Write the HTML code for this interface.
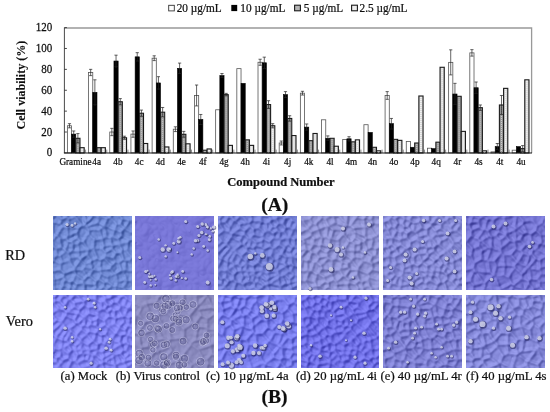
<!DOCTYPE html>
<html><head><meta charset="utf-8"><style>
html,body{margin:0;padding:0;background:#fff;}
body{width:550px;height:412px;overflow:hidden;position:relative;font-family:"Liberation Serif",serif;}
svg{position:absolute;left:0;top:0;will-change:transform;}
.bw{fill:#fff;stroke:#555;stroke-width:0.8;}
.bb{fill:#000;stroke:#000;stroke-width:0.6;}
.bg{fill:#959595;stroke:#1a1a1a;stroke-width:1.05;}
.bd{fill:#d8d8d8;stroke:#1a1a1a;stroke-width:1.1;}
.dd{stroke:#fff;stroke-width:1.2;stroke-dasharray:1 1;}
.gd{stroke:#d0d0d0;stroke-width:1.0;stroke-dasharray:1 1;}
.eb{stroke:#222;stroke-width:0.7;fill:none;}
.ax{stroke:#333;stroke-width:0.9;}
.xt{stroke:#808080;stroke-width:0.9;}
.tl{font-family:"Liberation Serif",serif;font-size:11px;fill:#111;}
.xl{font-family:"Liberation Serif",serif;font-size:9.2px;fill:#111;}
.lg{font-family:"Liberation Serif",serif;font-size:11.3px;fill:#111;}
.cap{font-family:"Liberation Serif",serif;font-size:12.7px;fill:#111;}
.b{font-weight:bold;}
text{stroke:#111;stroke-width:0.22px;fill:#111;}
</style></head><body>
<svg width="550" height="412" viewBox="0 0 550 412">
<defs>

</defs>
<filter id="cb" filterUnits="userSpaceOnUse" x="0" y="0" width="550" height="412"><feGaussianBlur stdDeviation="0.3"/></filter>
<g filter="url(#cb)">
<!-- frame -->
<path d="M64.40 28.0H531.6V152.90" fill="none" stroke="#999" stroke-width="1.3"/>
<line class="ax" x1="64.40" y1="27.6" x2="64.40" y2="152.90"/>
<line class="ax" x1="64.40" y1="152.90" x2="66.90" y2="152.90"/>
<text class="tl" transform="translate(52.3 156.40) scale(1 1.15)" text-anchor="end">0</text>
<line class="ax" x1="64.40" y1="132.02" x2="66.90" y2="132.02"/>
<text class="tl" transform="translate(52.3 135.52) scale(1 1.15)" text-anchor="end">20</text>
<line class="ax" x1="64.40" y1="111.13" x2="66.90" y2="111.13"/>
<text class="tl" transform="translate(52.3 114.63) scale(1 1.15)" text-anchor="end">40</text>
<line class="ax" x1="64.40" y1="90.25" x2="66.90" y2="90.25"/>
<text class="tl" transform="translate(52.3 93.75) scale(1 1.15)" text-anchor="end">60</text>
<line class="ax" x1="64.40" y1="69.37" x2="66.90" y2="69.37"/>
<text class="tl" transform="translate(52.3 72.87) scale(1 1.15)" text-anchor="end">80</text>
<line class="ax" x1="64.40" y1="48.48" x2="66.90" y2="48.48"/>
<text class="tl" transform="translate(52.3 51.98) scale(1 1.15)" text-anchor="end">100</text>
<line class="ax" x1="64.40" y1="27.60" x2="66.90" y2="27.60"/>
<text class="tl" transform="translate(52.3 31.10) scale(1 1.15)" text-anchor="end">120</text>
<line class="xt" x1="85.58" y1="152.90" x2="85.58" y2="149.60"/>
<line class="xt" x1="106.76" y1="152.90" x2="106.76" y2="149.60"/>
<line class="xt" x1="127.94" y1="152.90" x2="127.94" y2="149.60"/>
<line class="xt" x1="149.12" y1="152.90" x2="149.12" y2="149.60"/>
<line class="xt" x1="170.30" y1="152.90" x2="170.30" y2="149.60"/>
<line class="xt" x1="191.48" y1="152.90" x2="191.48" y2="149.60"/>
<line class="xt" x1="212.66" y1="152.90" x2="212.66" y2="149.60"/>
<line class="xt" x1="233.84" y1="152.90" x2="233.84" y2="149.60"/>
<line class="xt" x1="255.02" y1="152.90" x2="255.02" y2="149.60"/>
<line class="xt" x1="276.20" y1="152.90" x2="276.20" y2="149.60"/>
<line class="xt" x1="297.38" y1="152.90" x2="297.38" y2="149.60"/>
<line class="xt" x1="318.56" y1="152.90" x2="318.56" y2="149.60"/>
<line class="xt" x1="339.74" y1="152.90" x2="339.74" y2="149.60"/>
<line class="xt" x1="360.92" y1="152.90" x2="360.92" y2="149.60"/>
<line class="xt" x1="382.10" y1="152.90" x2="382.10" y2="149.60"/>
<line class="xt" x1="403.28" y1="152.90" x2="403.28" y2="149.60"/>
<line class="xt" x1="424.46" y1="152.90" x2="424.46" y2="149.60"/>
<line class="xt" x1="445.64" y1="152.90" x2="445.64" y2="149.60"/>
<line class="xt" x1="466.82" y1="152.90" x2="466.82" y2="149.60"/>
<line class="xt" x1="488.00" y1="152.90" x2="488.00" y2="149.60"/>
<line class="xt" x1="509.18" y1="152.90" x2="509.18" y2="149.60"/>
<rect class="bw" x="67.39" y="125.75" width="4.20" height="27.15"/>
<path class="eb" d="M69.49 127.84V123.66M67.89 123.66H71.09M67.89 127.84H71.09"/>
<rect class="bb" x="71.59" y="134.11" width="4.20" height="18.79"/>
<path class="eb" d="M73.69 137.24V130.97M72.09 130.97H75.29M72.09 137.24H75.29"/>
<rect class="bg" x="75.79" y="138.28" width="4.20" height="14.62"/>
<line class="gd" x1="77.89" y1="139.28" x2="77.89" y2="152.90"/>
<path class="eb" d="M77.89 142.98V133.58M76.29 133.58H79.49M76.29 142.98H79.49"/>
<rect class="bd" x="79.99" y="147.68" width="4.20" height="5.22"/>
<line class="dd" x1="82.09" y1="148.68" x2="82.09" y2="152.90"/>
<rect class="bw" x="88.57" y="72.50" width="4.20" height="80.40"/>
<path class="eb" d="M90.67 75.63V69.37M89.07 69.37H92.27M89.07 75.63H92.27"/>
<rect class="bb" x="92.77" y="92.34" width="4.20" height="60.56"/>
<path class="eb" d="M94.87 104.87V79.81M93.27 79.81H96.47M93.27 104.87H96.47"/>
<rect class="bg" x="96.97" y="147.68" width="4.20" height="5.22"/>
<line class="gd" x1="99.07" y1="148.68" x2="99.07" y2="152.90"/>
<rect class="bd" x="101.17" y="147.68" width="4.20" height="5.22"/>
<line class="dd" x1="103.27" y1="148.68" x2="103.27" y2="152.90"/>
<rect class="bw" x="109.75" y="132.02" width="4.20" height="20.88"/>
<path class="eb" d="M111.85 135.67V128.36M110.25 128.36H113.45M110.25 135.67H113.45"/>
<rect class="bb" x="113.95" y="61.01" width="4.20" height="91.89"/>
<path class="eb" d="M116.05 66.86V55.17M114.45 55.17H117.65M114.45 66.86H117.65"/>
<rect class="bg" x="118.15" y="101.74" width="4.20" height="51.16"/>
<line class="gd" x1="120.25" y1="102.74" x2="120.25" y2="152.90"/>
<path class="eb" d="M120.25 104.87V98.60M118.65 98.60H121.85M118.65 104.87H121.85"/>
<rect class="bd" x="122.35" y="137.76" width="4.20" height="15.14"/>
<line class="dd" x1="124.45" y1="138.76" x2="124.45" y2="152.90"/>
<path class="eb" d="M124.45 139.33V136.19M122.85 136.19H126.05M122.85 139.33H126.05"/>
<rect class="bw" x="130.93" y="134.11" width="4.20" height="18.79"/>
<path class="eb" d="M133.03 137.24V130.97M131.43 130.97H134.63M131.43 137.24H134.63"/>
<rect class="bb" x="135.13" y="56.84" width="4.20" height="96.06"/>
<path class="eb" d="M137.23 61.01V52.66M135.63 52.66H138.83M135.63 61.01H138.83"/>
<rect class="bg" x="139.33" y="113.22" width="4.20" height="39.68"/>
<line class="gd" x1="141.43" y1="114.22" x2="141.43" y2="152.90"/>
<path class="eb" d="M141.43 116.35V110.09M139.83 110.09H143.03M139.83 116.35H143.03"/>
<rect class="bd" x="143.53" y="143.50" width="4.20" height="9.40"/>
<line class="dd" x1="145.63" y1="144.50" x2="145.63" y2="152.90"/>
<rect class="bw" x="152.11" y="58.19" width="4.20" height="94.71"/>
<path class="eb" d="M154.21 60.60V55.79M152.61 55.79H155.81M152.61 60.60H155.81"/>
<rect class="bb" x="156.31" y="82.94" width="4.20" height="69.96"/>
<path class="eb" d="M158.41 89.21V76.68M156.81 76.68H160.01M156.81 89.21H160.01"/>
<rect class="bg" x="160.51" y="112.18" width="4.20" height="40.72"/>
<line class="gd" x1="162.61" y1="113.18" x2="162.61" y2="152.90"/>
<path class="eb" d="M162.61 116.88V107.48M161.01 107.48H164.21M161.01 116.88H164.21"/>
<rect class="bd" x="164.71" y="146.95" width="4.20" height="5.95"/>
<line class="dd" x1="166.81" y1="147.95" x2="166.81" y2="152.90"/>
<rect class="bw" x="173.29" y="129.20" width="4.20" height="23.70"/>
<path class="eb" d="M175.39 131.60V126.80M173.79 126.80H176.99M173.79 131.60H176.99"/>
<rect class="bb" x="177.49" y="68.32" width="4.20" height="84.58"/>
<path class="eb" d="M179.59 73.54V63.10M177.99 63.10H181.19M177.99 73.54H181.19"/>
<rect class="bg" x="181.69" y="134.31" width="4.20" height="18.59"/>
<line class="gd" x1="183.79" y1="135.31" x2="183.79" y2="152.90"/>
<path class="eb" d="M183.79 137.24V131.39M182.19 131.39H185.39M182.19 137.24H185.39"/>
<rect class="bd" x="185.89" y="143.82" width="4.20" height="9.08"/>
<line class="dd" x1="187.99" y1="144.82" x2="187.99" y2="152.90"/>
<rect class="bw" x="194.47" y="95.47" width="4.20" height="57.43"/>
<path class="eb" d="M196.57 105.91V85.03M194.97 85.03H198.17M194.97 105.91H198.17"/>
<rect class="bb" x="198.67" y="119.49" width="4.20" height="33.41"/>
<path class="eb" d="M200.77 124.50V114.47M199.17 114.47H202.37M199.17 124.50H202.37"/>
<rect class="bg" x="202.87" y="150.19" width="4.20" height="2.71"/>
<line class="gd" x1="204.97" y1="151.19" x2="204.97" y2="152.90"/>
<rect class="bd" x="207.07" y="148.93" width="4.20" height="3.97"/>
<line class="dd" x1="209.17" y1="149.93" x2="209.17" y2="152.90"/>
<rect class="bw" x="215.65" y="109.78" width="4.20" height="43.12"/>
<rect class="bb" x="219.85" y="75.63" width="4.20" height="77.27"/>
<path class="eb" d="M221.95 77.72V73.54M220.35 73.54H223.55M220.35 77.72H223.55"/>
<rect class="bg" x="224.05" y="94.64" width="4.20" height="58.26"/>
<line class="gd" x1="226.15" y1="95.64" x2="226.15" y2="152.90"/>
<path class="eb" d="M226.15 95.89V93.38M224.55 93.38H227.75M224.55 95.89H227.75"/>
<rect class="bd" x="228.25" y="145.38" width="4.20" height="7.52"/>
<line class="dd" x1="230.35" y1="146.38" x2="230.35" y2="152.90"/>
<rect class="bw" x="236.83" y="68.64" width="4.20" height="84.26"/>
<rect class="bb" x="241.03" y="83.36" width="4.20" height="69.54"/>
<rect class="bg" x="245.23" y="139.85" width="4.20" height="13.05"/>
<line class="gd" x1="247.33" y1="140.85" x2="247.33" y2="152.90"/>
<rect class="bd" x="249.43" y="145.38" width="4.20" height="7.52"/>
<line class="dd" x1="251.53" y1="146.38" x2="251.53" y2="152.90"/>
<rect class="bw" x="258.01" y="62.27" width="4.20" height="90.63"/>
<path class="eb" d="M260.11 65.29V59.24M258.51 59.24H261.71M258.51 65.29H261.71"/>
<rect class="bb" x="262.21" y="62.79" width="4.20" height="90.11"/>
<path class="eb" d="M264.31 68.43V57.15M262.71 57.15H265.91M262.71 68.43H265.91"/>
<rect class="bg" x="266.41" y="104.56" width="4.20" height="48.34"/>
<line class="gd" x1="268.51" y1="105.56" x2="268.51" y2="152.90"/>
<path class="eb" d="M268.51 108.42V100.69M266.91 100.69H270.11M266.91 108.42H270.11"/>
<rect class="bd" x="270.61" y="125.75" width="4.20" height="27.15"/>
<line class="dd" x1="272.71" y1="126.75" x2="272.71" y2="152.90"/>
<path class="eb" d="M272.71 127.84V123.66M271.11 123.66H274.31M271.11 127.84H274.31"/>
<rect class="bw" x="279.19" y="142.98" width="4.20" height="9.92"/>
<path class="eb" d="M281.29 144.96V141.00M279.69 141.00H282.89M279.69 144.96H282.89"/>
<rect class="bb" x="283.39" y="94.64" width="4.20" height="58.26"/>
<path class="eb" d="M285.49 97.66V91.61M283.89 91.61H287.09M283.89 97.66H287.09"/>
<rect class="bg" x="287.59" y="118.44" width="4.20" height="34.46"/>
<line class="gd" x1="289.69" y1="119.44" x2="289.69" y2="152.90"/>
<path class="eb" d="M289.69 121.16V115.73M288.09 115.73H291.29M288.09 121.16H291.29"/>
<rect class="bd" x="291.79" y="135.57" width="4.20" height="17.33"/>
<line class="dd" x1="293.89" y1="136.57" x2="293.89" y2="152.90"/>
<rect class="bw" x="300.37" y="93.17" width="4.20" height="59.73"/>
<path class="eb" d="M302.47 95.05V91.29M300.87 91.29H304.07M300.87 95.05H304.07"/>
<rect class="bb" x="304.57" y="127.11" width="4.20" height="25.79"/>
<path class="eb" d="M306.67 130.24V123.98M305.07 123.98H308.27M305.07 130.24H308.27"/>
<rect class="bg" x="308.77" y="140.68" width="4.20" height="12.22"/>
<line class="gd" x1="310.87" y1="141.68" x2="310.87" y2="152.90"/>
<rect class="bd" x="312.97" y="133.48" width="4.20" height="19.42"/>
<line class="dd" x1="315.07" y1="134.48" x2="315.07" y2="152.90"/>
<rect class="bw" x="321.55" y="119.80" width="4.20" height="33.10"/>
<rect class="bb" x="325.75" y="138.28" width="4.20" height="14.62"/>
<path class="eb" d="M327.85 140.68V135.88M326.25 135.88H329.45M326.25 140.68H329.45"/>
<rect class="bg" x="329.95" y="138.28" width="4.20" height="14.62"/>
<line class="gd" x1="332.05" y1="139.28" x2="332.05" y2="152.90"/>
<rect class="bd" x="334.15" y="146.22" width="4.20" height="6.68"/>
<line class="dd" x1="336.25" y1="147.22" x2="336.25" y2="152.90"/>
<rect class="bw" x="342.73" y="139.53" width="4.20" height="13.37"/>
<rect class="bb" x="346.93" y="138.80" width="4.20" height="14.10"/>
<path class="eb" d="M349.03 140.89V136.72M347.43 136.72H350.63M347.43 140.89H350.63"/>
<rect class="bg" x="351.13" y="141.83" width="4.20" height="11.07"/>
<line class="gd" x1="353.23" y1="142.83" x2="353.23" y2="152.90"/>
<rect class="bd" x="355.33" y="139.85" width="4.20" height="13.05"/>
<line class="dd" x1="357.43" y1="140.85" x2="357.43" y2="152.90"/>
<rect class="bw" x="363.91" y="124.71" width="4.20" height="28.19"/>
<rect class="bb" x="368.11" y="132.43" width="4.20" height="20.47"/>
<rect class="bg" x="372.31" y="147.26" width="4.20" height="5.64"/>
<line class="gd" x1="374.41" y1="148.26" x2="374.41" y2="152.90"/>
<rect class="bd" x="376.51" y="150.81" width="4.20" height="2.09"/>
<line class="dd" x1="378.61" y1="151.81" x2="378.61" y2="152.90"/>
<rect class="bw" x="385.09" y="95.47" width="4.20" height="57.43"/>
<path class="eb" d="M387.19 99.33V91.61M385.59 91.61H388.79M385.59 99.33H388.79"/>
<rect class="bb" x="389.29" y="123.66" width="4.20" height="29.24"/>
<path class="eb" d="M391.39 128.88V118.44M389.79 118.44H392.99M389.79 128.88H392.99"/>
<rect class="bg" x="393.49" y="139.33" width="4.20" height="13.57"/>
<line class="gd" x1="395.59" y1="140.33" x2="395.59" y2="152.90"/>
<rect class="bd" x="397.69" y="140.37" width="4.20" height="12.53"/>
<line class="dd" x1="399.79" y1="141.37" x2="399.79" y2="152.90"/>
<rect class="bw" x="406.27" y="141.41" width="4.20" height="11.49"/>
<rect class="bb" x="410.47" y="147.26" width="4.20" height="5.64"/>
<rect class="bg" x="414.67" y="142.98" width="4.20" height="9.92"/>
<line class="gd" x1="416.77" y1="143.98" x2="416.77" y2="152.90"/>
<rect class="bd" x="418.87" y="95.99" width="4.20" height="56.91"/>
<line class="dd" x1="420.97" y1="96.99" x2="420.97" y2="152.90"/>
<rect class="bw" x="427.45" y="148.20" width="4.20" height="4.70"/>
<rect class="bb" x="431.65" y="148.62" width="4.20" height="4.28"/>
<rect class="bg" x="435.85" y="142.15" width="4.20" height="10.75"/>
<line class="gd" x1="437.95" y1="143.15" x2="437.95" y2="152.90"/>
<rect class="bd" x="440.05" y="67.28" width="4.20" height="85.62"/>
<line class="dd" x1="442.15" y1="68.28" x2="442.15" y2="152.90"/>
<rect class="bw" x="448.63" y="62.37" width="4.20" height="90.53"/>
<path class="eb" d="M450.73 74.90V49.84M449.13 49.84H452.33M449.13 74.90H452.33"/>
<rect class="bb" x="452.83" y="94.01" width="4.20" height="58.89"/>
<path class="eb" d="M454.93 104.66V83.36M453.33 83.36H456.53M453.33 104.66H456.53"/>
<rect class="bg" x="457.03" y="96.31" width="4.20" height="56.59"/>
<line class="gd" x1="459.13" y1="97.31" x2="459.13" y2="152.90"/>
<rect class="bd" x="461.23" y="131.39" width="4.20" height="21.51"/>
<line class="dd" x1="463.33" y1="132.39" x2="463.33" y2="152.90"/>
<rect class="bw" x="469.81" y="52.87" width="4.20" height="100.03"/>
<path class="eb" d="M471.91 56.11V49.63M470.31 49.63H473.51M470.31 56.11H473.51"/>
<rect class="bb" x="474.01" y="87.74" width="4.20" height="65.16"/>
<path class="eb" d="M476.11 93.49V82.00M474.51 82.00H477.71M474.51 93.49H477.71"/>
<rect class="bg" x="478.21" y="107.69" width="4.20" height="45.21"/>
<line class="gd" x1="480.31" y1="108.69" x2="480.31" y2="152.90"/>
<path class="eb" d="M480.31 110.40V104.97M478.71 104.97H481.91M478.71 110.40H481.91"/>
<rect class="bd" x="482.41" y="150.81" width="4.20" height="2.09"/>
<line class="dd" x1="484.51" y1="151.81" x2="484.51" y2="152.90"/>
<rect class="bw" x="490.99" y="151.86" width="4.20" height="1.04"/>
<rect class="bb" x="495.19" y="146.63" width="4.20" height="6.27"/>
<path class="eb" d="M497.29 149.77V143.50M495.69 143.50H498.89M495.69 149.77H498.89"/>
<rect class="bg" x="499.39" y="104.97" width="4.20" height="47.93"/>
<line class="gd" x1="501.49" y1="105.97" x2="501.49" y2="152.90"/>
<path class="eb" d="M501.49 114.47V95.47M499.89 95.47H503.09M499.89 114.47H503.09"/>
<rect class="bd" x="503.59" y="88.37" width="4.20" height="64.53"/>
<line class="dd" x1="505.69" y1="89.37" x2="505.69" y2="152.90"/>
<rect class="bw" x="512.17" y="150.19" width="4.20" height="2.71"/>
<rect class="bb" x="516.37" y="146.63" width="4.20" height="6.27"/>
<rect class="bg" x="520.57" y="148.62" width="4.20" height="4.28"/>
<line class="gd" x1="522.67" y1="149.62" x2="522.67" y2="152.90"/>
<path class="eb" d="M522.67 151.65V145.59M521.07 145.59H524.27M521.07 151.65H524.27"/>
<rect class="bd" x="524.77" y="79.81" width="4.20" height="73.09"/>
<line class="dd" x1="526.87" y1="80.81" x2="526.87" y2="152.90"/>
<line x1="63.90" y1="153.00" x2="532.00" y2="153.00" stroke="#111" stroke-width="1.2"/>
<text class="xl" transform="translate(75.49 164.6) scale(1 1.1)" text-anchor="middle">Gramine</text>
<text class="xl" transform="translate(96.70 164.6) scale(1 1.1)" text-anchor="middle">4a</text>
<text class="xl" transform="translate(117.92 164.6) scale(1 1.1)" text-anchor="middle">4b</text>
<text class="xl" transform="translate(139.13 164.6) scale(1 1.1)" text-anchor="middle">4c</text>
<text class="xl" transform="translate(160.35 164.6) scale(1 1.1)" text-anchor="middle">4d</text>
<text class="xl" transform="translate(181.56 164.6) scale(1 1.1)" text-anchor="middle">4e</text>
<text class="xl" transform="translate(202.78 164.6) scale(1 1.1)" text-anchor="middle">4f</text>
<text class="xl" transform="translate(224.00 164.6) scale(1 1.1)" text-anchor="middle">4g</text>
<text class="xl" transform="translate(245.21 164.6) scale(1 1.1)" text-anchor="middle">4h</text>
<text class="xl" transform="translate(266.43 164.6) scale(1 1.1)" text-anchor="middle">4i</text>
<text class="xl" transform="translate(287.64 164.6) scale(1 1.1)" text-anchor="middle">4j</text>
<text class="xl" transform="translate(308.86 164.6) scale(1 1.1)" text-anchor="middle">4k</text>
<text class="xl" transform="translate(330.07 164.6) scale(1 1.1)" text-anchor="middle">4l</text>
<text class="xl" transform="translate(351.29 164.6) scale(1 1.1)" text-anchor="middle">4m</text>
<text class="xl" transform="translate(372.50 164.6) scale(1 1.1)" text-anchor="middle">4n</text>
<text class="xl" transform="translate(393.72 164.6) scale(1 1.1)" text-anchor="middle">4o</text>
<text class="xl" transform="translate(414.93 164.6) scale(1 1.1)" text-anchor="middle">4p</text>
<text class="xl" transform="translate(436.14 164.6) scale(1 1.1)" text-anchor="middle">4q</text>
<text class="xl" transform="translate(457.36 164.6) scale(1 1.1)" text-anchor="middle">4r</text>
<text class="xl" transform="translate(478.57 164.6) scale(1 1.1)" text-anchor="middle">4s</text>
<text class="xl" transform="translate(499.79 164.6) scale(1 1.1)" text-anchor="middle">4t</text>
<text class="xl" transform="translate(521.00 164.6) scale(1 1.1)" text-anchor="middle">4u</text>
<text class="b" transform="translate(25.4 85.2) rotate(-90) scale(1.0 1)" text-anchor="middle" font-size="12" style="stroke-width:0.1px">Cell viability (%)</text>
<text class="b" x="281" y="186.2" text-anchor="middle" font-size="12.5">Compound Number</text>
<text class="b" x="274.7" y="211.0" text-anchor="middle" font-size="19.5">(A)</text>
<text class="b" x="274.6" y="403.0" text-anchor="middle" font-size="19.5">(B)</text>
<!-- legend -->
<rect x="168.7" y="5.3" width="5.6" height="5.6" fill="#fff" stroke="#333" stroke-width="0.9"/>
<text class="lg" transform="translate(176.7 12) scale(1 1.07)">20 µg/mL</text>
<rect x="231.3" y="4.9" width="5.9" height="6.2" fill="#000"/>
<text class="lg" transform="translate(240.3 12) scale(1 1.07)">10 µg/mL</text>
<rect x="294.6" y="5.2" width="5.8" height="5.6" fill="#b5b5b5" stroke="#1a1a1a" stroke-width="1.1"/>
<text class="lg" transform="translate(303.8 12) scale(1 1.07)">5 µg/mL</text>
<rect x="351.6" y="5.2" width="5.8" height="5.6" fill="#eee" stroke="#1a1a1a" stroke-width="1.1"/>
<text class="lg" transform="translate(359.5 12) scale(1 1.07)">2.5 µg/mL</text>
<!-- photo labels -->
<text font-size="14.3" x="5.2" y="259.5">RD</text>
<text font-size="14.3" x="5.8" y="325.8">Vero</text>
<text class="cap" x="60.6" y="380.4">(a) Mock</text>
<text class="cap" x="115.7" y="380.4">(b) Virus control</text>
<text class="cap" x="206" y="380.4">(c) 10 µg/mL 4a</text>
<text class="cap" x="295.9" y="380.4">(d) 20 µg/mL 4i</text>
<text class="cap" x="380.6" y="380.4">(e) 40 µg/mL 4r</text>
<text class="cap" x="466" y="380.4">(f) 40 µg/mL 4s</text>
</g>
<defs>
<path id="mz0" d="M-2 15l2 -9M-0 6l-2 -2M3 -3l-5 5M-2 2l-1 2M76 76l5 -5M102 46l-21 -5M102 46l-23 8M77 43l2 -2M77 43l2 11M81 40l-2 1M79 54l0 0M79 54l0 6M82 71l-4 -7M80 60l-3 4M1 63l9 -3M1 63l-6 -8M-5 55l12 -2M7 53l4 4M11 56l-1 4M-12 52l12 -8M7 53l0 -6M-0 44l8 3M0 71l1 -8M-0 6l8 1M3 -3l2 1M6 -2l2 5M7 7l1 -3M87 -0l-8 2M41 -2l-10 11M32 -3l-0 12M14 20l0 -10M14 20l10 -5M14 10l1 -0M15 10l10 1M26 11l-2 4M41 23l-1 9M41 23l-6 -6M35 33l-5 -8M35 33l4 -1M30 25l6 -9M1 71l5 0M1 71l3 15M7 72l3 5M0 71l1 1M10 60l1 2M7 72l3 -2M11 63l-2 7M15 78l1 -6M10 69l6 2M29 9l-4 2M29 9l2 -0M31 9l1 1M33 10l2 3M24 15l-0 5M30 25l-3 0M36 17l-1 -4M24 20l3 5M19 34l0 -7M19 34l5 0M25 34l0 -0M25 34l-0 -6M25 27l-5 -0M35 33l-10 1M35 33l0 -0M27 25l-2 2M17 25l3 2M17 25l7 -4M15 36l-3 -2M15 36l4 -2M13 34l-1 -1M17 25l-2 -0M12 33l3 -9M14 20l-1 2M13 22l2 3M21 52l7 -10M21 52l-5 -8M16 44l1 -2M16 41l9 -1M25 41l2 2M21 53l-0 -1M21 53l-10 4M8 47l2 -2M9 46l6 -2M15 36l1 5M13 34l-6 5M7 39l2 7M25 34l1 6M35 33l-1 5M27 43l0 0M34 38l-7 4M40 31l1 0M40 32l4 10M44 42l-6 2M34 38l4 6M81 40l-1 -7M82 31l-1 3M58 49l-7 -7M58 49l4 -3M62 45l-2 -4M60 41l-8 -2M52 39l-1 2M57 52l1 -3M57 52l-10 1M47 53l0 -10M48 43l3 -2M77 43l-5 1M79 54l-7 -0M72 53l0 -9M54 72l-1 27M54 72l-3 -2M50 71l-5 2M45 73l8 26M65 46l5 -3M65 46l3 9M72 53l-2 1M72 44l-3 -1M68 54l2 0M-0 44l1 -3M7 39l-4 -1M1 41l3 -2M1 41l-5 -5M14 1l2 1M14 1l-1 -6M16 2l7 -2M22 -0l-0 -3M9 10l5 0M9 10l-2 -3M15 10l0 -8M8 3l6 -3M6 -2l7 -4M29 9l-7 -9M31 9l-0 0M41 -2l4 2M33 10l11 -4M44 6l2 -6M47 -1l-2 0M40 53l7 1M40 53l-4 6M36 59l7 6M47 54l1 3M47 57l-1 5M43 65l3 -3M21 53l8 -0M21 53l1 4M22 57l9 7M29 53l5 7M34 59l-3 4M21 72l-4 -1M21 72l3 -5M17 71l0 -6M24 67l-5 -3M19 64l-2 1M24 77l-3 -5M16 72l1 -1M11 63l6 2M30 66l0 -2M30 66l-6 1M22 57l-2 7M21 53l0 0M40 32l9 0M44 42l4 1M52 39l0 -2M49 32l3 4M39 52l-2 -7M39 52l-9 -2M38 45l-7 2M31 51l1 -4M47 53l-1 1M38 44l-0 1M40 53l-0 -1M36 59l-2 1M29 53l2 -2M27 43l4 4M79 41l-7 -8M80 34l-6 -2M72 33l3 -2M42 68l-11 -1M42 68l1 3M43 71l-5 4M38 75l-7 -1M31 67l-0 6M30 73l1 1M30 66l1 1M43 65l-1 3M50 71l1 -5M51 66l-5 -3M45 73l-2 -1M24 77l6 -3M57 52l4 5M62 45l3 0M68 54l-6 3M61 57l1 0M47 57l8 3M61 57l-6 3M51 66l3 -1M55 60l-1 5M54 72l7 -3M54 65l6 4M-0 30l3 2M-0 30l-2 -5M-2 25l5 -6M8 31l-2 -10M8 31l-5 1M6 21l-3 -2M3 19l1 -0M3 38l-0 -6M-4 36l4 -5M-2 15l5 5M12 33l-4 -2M13 22l-7 -1M9 10l-6 10M79 2l-0 0M81 12l-2 -10M60 41l3 -5M52 36l7 -4M59 32l3 4M70 43l-2 -7M63 36l5 -0M72 33l-3 0M67 36l2 -2M70 55l3 8M62 57l2 7M64 65l9 -2M77 64l-3 -0M74 64l-2 -1M51 9l0 -0M51 9l-5 4M51 9l2 11M46 13l2 8M53 20l-4 2M48 21l1 0M35 13l11 0M44 6l7 3M41 23l7 -1M50 30l-1 2M50 30l-1 -8M47 -1l7 3M51 9l1 -1M54 2l-3 7M62 69l0 -0M62 69l0 10M62 69l8 2M62 79l11 -4M73 75l-3 -4M60 69l2 0M64 65l-1 4M74 64l-4 7M76 76l-3 -2M82 31l-3 -9M79 22l2 -2M81 12l-1 4M81 20l-1 -4M59 32l0 -3M69 34l-3 -6M66 27l-7 2M50 30l8 -2M58 28l2 2M53 20l4 1M58 28l-1 -7M52 9l9 4M61 13l-2 7M57 21l1 -1M54 2l2 -1M62 -8l-5 9M79 2l-2 0M77 3l-9 -1M62 -8l7 10M68 19l9 4M68 19l-3 3M65 22l1 5M67 27l9 -2M76 24l1 -2M66 27l0 -0M58 20l7 2M74 31l1 -7M79 22l-2 1M61 13l2 -5M61 13l7 2M63 8l4 -1M67 7l4 5M68 15l3 -3M71 12l0 0M61 13l0 -0M56 0l7 7M68 19l0 -4M69 2l-2 5M77 3l-6 9M80 16l-9 -4"/>
<path id="mz1" d="M65 99l11 -26M76 73l7 -1M30 -20l-13 20M30 -20l4 19M17 -0l5 3M33 -1l-6 4M21 2l5 -0M17 -0l-1 -0M8 -16l8 16M26 10l1 -8M26 10l-5 4M21 2l-3 10M21 14l-3 -2M82 18l-2 10M81 28l-0 -1M80 39l1 1M80 39l-0 -1M80 38l1 -10M-1 75l-2 -4M4 16l1 -2M4 16l1 3M4 19l7 3M11 22l6 -9M17 13l-4 -2M13 10l-9 4M-13 57l20 -6M-13 57l13 9M3 64l-4 1M3 64l5 -11M8 54l-1 -3M6 44l2 2M8 46l-1 5M-3 71l2 -6M12 29l1 -5M12 29l3 5M15 34l8 -3M23 31l-8 -6M15 24l-2 -0M23 19l-8 5M23 19l-2 -5M11 22l2 2M17 13l1 -0M-10 29l9 -4M-10 29l14 11M-1 25l7 7M4 40l2 -8M4 19l-5 6M6 44l-1 -4M12 29l-5 3M14 43l-6 3M14 43l1 -9M45 67l-12 6M45 67l2 1M47 68l-0 -0M47 68l-8 24M39 92l-6 -19M49 70l-2 -2M76 73l-4 -4M88 63l-15 2M73 69l-0 -4M81 58l-7 -1M81 58l1 -8M83 50l-1 -1M82 49l-8 2M74 56l-1 -3M73 53l1 -2M88 63l-7 -6M71 63l1 2M71 63l3 -6M82 40l-0 9M80 39l-7 4M73 43l0 8M78 -0l-3 6M108 5l-27 5M75 6l5 4M82 18l-0 -0M82 18l-1 -8M70 9l6 -3M70 9l-5 -6M33 -1l3 3M37 1l1 3M26 10l6 3M37 4l-0 1M32 13l5 -8M75 26l-2 1M75 26l-2 -9M73 27l-8 -3M64 24l0 -7M73 17l-5 -4M65 17l4 -3M80 38l-10 -6M80 28l-6 -1M70 32l2 -5M82 18l-9 -0M70 32l-5 2M66 34l-4 -7M62 28l2 -4M70 9l-1 5M73 43l-4 -1M66 34l-1 3M69 42l-5 -5M51 46l5 -9M51 46l8 3M56 37l6 1M63 38l-3 11M16 -0l-3 2M13 10l-1 -5M13 2l-1 4M14 43l6 0M23 31l1 0M20 44l4 -12M25 20l-0 11M25 20l-2 -1M24 31l1 -0M42 61l-5 -3M42 61l6 -10M48 49l-0 2M48 49l-10 0M37 58l1 -9M48 49l2 -3M44 38l7 8M44 38l-6 -0M37 38l1 12M38 49l-0 -0M3 64l4 5M8 54l0 0M8 54l9 12M17 66l-10 3M-1 75l7 -1M7 69l-1 6M8 76l-1 -1M67 72l-5 -5M67 72l-4 9M62 66l-3 6M63 81l-5 -8M73 69l-5 3M49 70l10 3M50 -3l-2 14M50 -3l7 8M48 11l1 1M57 5l-1 2M56 7l-7 5M48 12l0 0M37 1l13 -4M37 4l11 7M64 4l-8 1M48 13l1 -1M48 13l-7 3M40 16l-3 -11M60 16l-4 -9M60 16l5 1M60 16l-3 1M57 17l-8 -5M40 19l-7 4M40 19l-0 -2M39 18l-7 -3M33 23l-4 -4M29 19l3 -4M34 32l-1 -9M34 32l9 -8M43 24l-4 -5M40 16l-1 2M32 13l0 2M25 20l3 -1M34 32l-1 1M25 31l8 3M49 32l6 2M49 32l-1 -7M54 34l5 -6M59 28l-6 -5M53 23l-5 1M48 25l1 -1M44 38l5 -6M50 46l1 -0M56 37l-2 -4M43 24l4 1M37 38l-2 -1M34 33l1 3M62 28l-3 0M65 37l-2 1M57 17l-4 6M48 13l1 11M63 52l-1 -1M63 52l1 10M62 51l-1 -0M61 51l-6 8M65 62l-3 2M62 64l-7 -2M55 62l0 -4M73 53l-9 -1M69 42l-7 9M71 63l-7 -1M59 49l2 2M48 51l7 7M62 66l-0 -2M47 68l8 -6M42 61l3 6M3 7l1 -1M3 7l-15 -7M4 6l2 -7M-13 -0l18 -2M6 -2l0 1M4 14l-2 -7M12 5l-8 1M13 2l-7 -3M8 -16l-2 14M21 44l6 -0M21 44l2 11M27 44l3 5M30 49l-3 10M23 55l4 4M27 59l1 0M27 59l-0 0M20 44l1 1M35 36l-7 8M8 54l15 2M38 49l-7 -0M37 58l-10 1M17 66l0 0M18 66l9 -7M33 72l-0 -0M33 72l-5 -13M19 87l-2 -14M19 87l9 -13M28 74l-10 -4M17 72l1 -3M8 76l10 -3M33 72l-4 1M18 66l1 3"/>
<path id="mz2" d="M80 76l2 -1M-4 60l2 -2M-1 51l2 2M-1 51l-14 -3M-1 59l2 -5M-1 51l4 -9M-15 48l15 -9M0 40l3 2M3 42l-0 -1M80 76l-7 -2M3 62l4 -1M3 62l-4 -3M1 53l6 1M7 54l-0 7M46 79l-7 -3M27 97l12 -21M82 75l0 -3M-1 85l1 -11M-1 85l-8 -11M0 74l-4 -2M3 67l-6 -1M3 67l0 -5M0 40l-1 -3M-3 35l2 1M9 54l6 4M9 54l6 -5M15 58l4 -3M18 55l-3 -6M28 45l-5 6M28 45l2 2M29 47l-2 6M28 54l-5 0M22 54l0 -3M27 44l6 -4M27 44l0 1M34 40l5 5M35 49l4 -3M35 49l-5 -2M82 71l-3 -3M94 65l-14 0M79 68l0 -3M73 73l-0 -0M66 74l6 -1M79 68l-7 4M73 73l0 -1M29 55l6 -1M29 55l0 3M29 58l1 1M30 59l6 -2M36 57l-0 -2M36 55l-1 -2M35 49l0 4M28 54l1 1M22 54l0 -0M22 54l2 6M24 60l5 -2M31 64l-1 -5M31 64l-6 3M24 60l-2 6M22 66l2 2M39 76l-0 -2M24 85l3 -12M26 73l9 -2M36 71l4 3M46 79l4 -5M50 74l7 10M15 63l-5 1M15 63l3 2M18 65l-4 11M11 64l-5 6M6 71l-0 -1M6 71l4 4M10 75l4 1M8 53l-2 1M8 53l1 0M6 61l4 4M15 58l0 5M22 54l-4 1M22 66l-5 -1M24 85l-10 -9M26 73l-2 -6M3 67l3 3M0 74l6 -3M0 89l9 -14M78 41l-4 -1M78 41l12 -9M74 40l7 -8M90 32l-9 0M82 45l-4 -4M27 44l-4 -3M23 51l-4 -4M23 41l-4 6M16 48l0 -1M16 48l3 -1M99 63l-19 -5M80 58l2 -6M82 45l-2 5M80 50l2 2M31 64l3 1M36 57l0 0M34 65l2 -7M36 71l0 -5M34 65l2 1M50 74l0 -1M57 84l3 -9M50 73l10 2M66 74l-4 -2M60 74l2 -2M82 4l-3 1M82 4l3 4M79 6l-3 6M85 9l-3 8M82 16l-6 -5M73 -11l-3 11M73 -11l9 13M71 0l2 3M73 3l6 3M82 3l-1 2M83 20l-1 -4M73 3l-2 7M76 12l-1 0M70 10l4 2M76 22l-5 -1M76 22l0 7M70 27l4 4M70 27l0 -6M71 21l-1 0M76 30l-3 1M83 20l-7 2M75 12l-4 9M81 32l-5 -2M55 -11l-5 10M50 -1l-7 -1M11 11l4 -7M11 11l-0 3M16 4l1 -0M17 4l3 3M21 7l0 4M21 12l-8 5M13 17l-0 0M11 15l2 2M8 53l1 -9M16 48l-3 -3M13 45l-5 -0M3 42l5 2M9 45l-1 -1M74 40l-0 0M72 35l2 -4M72 35l1 4M73 40l-1 -1M73 72l-2 -5M71 67l-4 -0M62 72l-0 -2M67 66l-5 4M51 67l10 2M51 67l9 -6M61 70l-1 -8M67 66l-4 -7M61 70l1 1M60 62l1 -3M61 59l2 0M80 65l-1 -1M71 67l0 -1M71 66l8 -2M80 58l-1 1M79 64l-0 -6M42 59l7 6M42 59l-2 1M40 60l-1 5M40 65l6 4M46 68l3 -0M49 65l0 3M49 68l0 -1M36 66l4 -1M36 58l4 2M39 74l7 -5M50 73l-1 -5M51 67l-2 0M58 52l-7 -4M58 52l1 -7M51 48l4 -4M55 43l4 -0M60 45l-1 -1M40 46l-1 0M40 46l4 3M36 55l8 -2M44 49l-0 4M42 59l2 -4M44 52l1 2M6 -4l-5 6M6 -4l4 4M10 0l-3 5M7 5l-6 1M1 6l-0 -4M-4 -1l5 3M20 -18l-7 19M13 1l-4 -1M13 1l3 3M11 11l-5 -6M70 10l-3 1M69 21l1 0M69 21l-4 -7M67 11l-1 3M23 -3l-0 1M23 -3l10 1M23 -1l7 8M33 -2l-0 5M33 3l-2 4M31 7l-1 -1M17 4l5 -5M38 -12l-5 11M21 7l9 -1M43 -2l-1 6M43 4l-10 -0M31 9l-0 -2M31 9l4 3M43 4l1 1M43 5l-3 6M35 12l5 -1M31 9l-5 6M26 14l-5 -3M34 40l0 -2M40 46l3 -9M43 37l-7 -1M34 38l2 -2M23 41l-0 -1M13 45l4 -8M23 40l-5 -4M34 38l-6 -4M23 40l5 -6M31 30l-3 1M31 30l4 1M35 31l1 5M28 35l0 -4M-2 19l8 -6M6 14l-5 -6M-5 9l6 -2M-4 30l7 -5M4 25l-6 -6M11 15l-5 -1M1 6l-1 1M37 29l-2 2M37 29l0 -3M31 30l1 -8M33 22l5 4M37 29l6 1M43 31l1 -8M38 26l6 -3M72 35l-6 -3M70 27l-4 4M66 32l-0 -1M73 39l-5 1M68 40l-5 -2M66 32l-3 6M68 40l-2 7M66 47l-6 -2M59 43l3 -5M63 38l-1 0M63 59l4 -1M71 66l-0 -3M67 58l4 5M79 58l-2 -0M76 58l-5 5M60 57l-1 -2M60 57l-10 5M59 55l-8 -0M50 62l-1 -6M49 56l2 -1M61 59l-1 -2M49 65l1 -3M59 54l-0 1M59 54l-1 -2M51 48l-0 0M51 48l0 7M45 55l5 2M48 47l3 1M48 47l-4 2M67 2l-5 -3M67 2l-3 5M64 7l-4 -0M60 7l-3 -5M62 -1l-4 2M58 1l-0 0M71 0l-4 2M67 11l-3 -4M55 -11l3 13M50 -1l2 4M53 3l5 -1M3 41l9 -11M8 44l7 -10M11 31l3 3M-1 36l10 -9M11 31l-2 -3M18 37l-2 -3M15 33l1 0M4 25l5 1M13 17l-0 3M12 20l-3 6M9 28l-0 -1M35 18l9 2M35 18l-3 3M33 22l-0 -0M44 23l1 -2M45 22l-0 -1M35 12l0 7M40 11l6 5M44 20l2 -5M66 14l-5 1M61 15l-3 -1M60 7l-3 3M58 10l1 5M55 43l-3 -4M48 47l-0 -8M52 39l-5 1M43 37l1 -0M47 39l-4 -3M43 31l2 2M44 37l1 -3M61 28l-6 4M61 28l1 -4M62 24l-1 -1M61 22l-6 -1M55 21l-4 4M51 25l1 4M52 30l3 2M56 32l-0 -0M66 31l-5 -3M62 38l-6 -6M69 21l-7 2M61 15l-0 7M58 14l-4 3M55 17l0 4M45 22l7 4M45 33l8 -4M52 39l3 -7M72 55l-2 -0M72 55l3 -6M70 55l-3 -6M76 49l-3 -2M73 47l-6 2M67 49l-0 0M67 58l3 -3M76 58l-4 -3M80 50l-4 -1M59 54l8 -5M73 40l-0 7M66 47l2 2M25 28l-2 -0M25 28l6 -7M23 28l-2 -4M21 24l4 -6M30 21l-4 -3M26 18l-1 0M28 31l-3 -3M16 34l7 -6M33 21l-2 -0M12 20l9 4M13 17l12 1M26 14l-0 4M54 10l-4 5M54 10l-3 -5M48 6l3 -1M48 6l0 8M48 14l2 0M58 10l-4 -0M55 17l-4 -3M53 3l-2 2M43 5l5 1M46 16l2 -1"/>
<path id="mz3" d="M-19 1l24 10M-19 1l19 19M6 11l-4 8M0 20l1 -0M6 11l4 -3M10 8l1 -1M47 7l-0 0M47 7l2 -17M46 7l-12 -1M32 -4l2 11M32 -4l-11 7M63 14l-2 -2M63 14l2 6M65 20l-6 9M60 12l-7 9M60 12l0 -0M53 21l4 8M57 28l2 0M43 19l3 -12M43 19l10 1M47 7l14 5M80 -1l2 4M80 -1l-8 -3M81 17l-3 -4M83 3l-5 10M77 34l-5 -0M77 34l6 -3M82 31l-2 -14M71 33l0 -10M71 33l0 0M81 17l-9 6M102 42l-23 -1M80 41l-3 -7M81 17l-0 1M62 31l-3 -3M62 31l10 1M65 20l7 3M69 42l-11 4M69 42l2 -9M62 31l-3 14M63 14l13 -2M78 13l-2 -1M-0 20l0 -0M10 26l-8 -6M10 26l-9 12M-0 20l-3 17M1 38l-3 -0M21 5l10 5M21 5l-2 2M19 7l4 12M22 19l9 -2M32 17l-0 -7M35 7l-3 3M22 3l-1 2M10 8l9 -1M43 19l-4 3M39 23l-8 -6M10 8l6 15M22 19l-2 3M20 22l-5 1M10 26l3 -0M13 25l3 -2M39 25l-6 5M39 25l9 9M33 30l1 14M34 44l14 -2M48 34l0 8M39 23l-0 3M27 30l-6 -9M27 30l7 0M57 28l-10 6M58 45l-3 3M55 49l-7 -7M61 12l10 -12M61 12l-1 -12M59 -0l12 -1M71 -0l0 -1M61 12l0 -0M76 11l-5 -11M48 -10l11 9M72 -4l-1 2M69 42l6 7M80 41l-4 8M75 49l0 -0M76 49l10 1M5 53l-0 5M5 58l-2 1M89 66l-8 5M80 82l1 -11M55 49l0 1M55 49l7 5M75 49l-1 1M62 54l13 -4M83 60l-7 -1M76 59l-1 -9M1 38l3 2M5 53l0 -1M5 52l-2 -12M13 25l4 9M16 34l-9 5M3 39l4 0M27 30l-4 4M33 45l1 -1M33 45l-6 -2M27 43l-5 -9M16 34l1 1M23 34l-5 1M36 55l-3 -4M36 55l-8 9M33 51l-13 6M28 64l-7 -8M33 45l-0 6M55 49l-8 11M45 61l2 -1M45 61l-9 -6M31 69l3 8M31 69l11 -4M34 78l8 -5M42 65l0 8M28 68l-5 3M28 68l3 1M28 68l-1 -4M45 61l-3 4M9 76l2 -5M9 76l-16 -5M11 71l-9 -5M-7 71l8 -5M23 71l-10 -3M13 68l-3 3M13 63l-0 5M13 63l-9 -5M3 59l-1 7M47 60l9 9M43 73l8 10M56 69l-6 14M13 45l-1 6M13 45l5 -1M18 43l2 1M21 45l-1 11M12 51l7 6M19 56l0 -0M5 52l7 -1M7 40l6 5M18 35l1 8M27 43l-7 2M20 56l-1 -0M13 63l6 -7M57 69l10 8M57 69l10 -6M72 68l-2 7M72 68l-1 -4M70 75l-3 2M70 64l-4 -1M56 69l0 -0M62 54l5 9M80 82l-10 -7M81 71l-9 -3M76 59l-5 5"/>
<filter id="soft2" x="-5%" y="-5%" width="110%" height="110%"><feGaussianBlur stdDeviation="0.35"/></filter>
</defs><defs><filter id="pf0" filterUnits="userSpaceOnUse" x="53.3" y="216.7" width="78.7" height="73.1" color-interpolation-filters="sRGB"><feTurbulence type="turbulence" baseFrequency="0.08" numOctaves="2" seed="10" result="n"/><feColorMatrix in="n" type="luminanceToAlpha" result="na"/><feGaussianBlur in="SourceAlpha" stdDeviation="0.9" result="eb"/><feComposite in="na" in2="eb" operator="arithmetic" k1="0" k2="0.40" k3="0.60" k4="0"/><feDiffuseLighting surfaceScale="3" diffuseConstant="1" lighting-color="#fff"><feDistantLight azimuth="225" elevation="55"/></feDiffuseLighting><feColorMatrix type="matrix" values="0.420 0 0 0 0.0946 0.420 0 0 0 0.1927 0.420 0 0 0 0.4830 0 0 0 0 1"/></filter></defs>
<g filter="url(#pf0)"><rect x="53.3" y="216.7" width="78.7" height="73.1" fill="none"/><use href="#mz0" transform="translate(53.3,216.7)" stroke="#000" stroke-width="1.1" fill="none"/></g>
<g transform="translate(53.3,216.7)" filter="url(#soft2)">
<circle cx="14.40" cy="8.50" r="2" fill="rgba(25,25,75,0.5)"/><circle cx="13.80" cy="7.75" r="1.56" fill="rgba(236,238,255,0.72)"/>
<circle cx="19.40" cy="9.50" r="1.8" fill="rgba(25,25,75,0.5)"/><circle cx="18.80" cy="8.75" r="1.40" fill="rgba(236,238,255,0.72)"/>
<circle cx="22.40" cy="7.50" r="1.5" fill="rgba(25,25,75,0.5)"/><circle cx="21.80" cy="6.75" r="1.17" fill="rgba(236,238,255,0.72)"/>
</g>
<defs><filter id="pf1" filterUnits="userSpaceOnUse" x="135.9" y="216.7" width="78.1" height="73.1" color-interpolation-filters="sRGB"><feTurbulence type="turbulence" baseFrequency="0.08" numOctaves="2" seed="17" result="n"/><feColorMatrix in="n" type="luminanceToAlpha" result="na"/><feGaussianBlur in="SourceAlpha" stdDeviation="0.9" result="eb"/><feComposite in="na" in2="eb" operator="arithmetic" k1="0" k2="1.00" k3="0.00" k4="0"/><feDiffuseLighting surfaceScale="3" diffuseConstant="1" lighting-color="#fff"><feDistantLight azimuth="225" elevation="55"/></feDiffuseLighting><feColorMatrix type="matrix" values="0.120 0 0 0 0.3767 0.120 0 0 0 0.3690 0.120 0 0 0 0.7494 0 0 0 0 1"/></filter></defs>
<g filter="url(#pf1)"><rect x="135.9" y="216.7" width="78.1" height="73.1" fill="none"/><use href="#mz0" transform="translate(135.9,216.7)" stroke="#000" stroke-width="1.1" fill="none"/></g>
<g transform="translate(135.9,216.7)" filter="url(#soft2)">
<circle cx="27.40" cy="33.50" r="2.8" fill="rgba(25,25,75,0.5)"/><circle cx="26.80" cy="32.75" r="2.18" fill="rgba(236,238,255,0.72)"/>
<circle cx="33.40" cy="33.50" r="2.8" fill="rgba(25,25,75,0.5)"/><circle cx="32.80" cy="32.75" r="2.18" fill="rgba(236,238,255,0.72)"/>
<circle cx="43.40" cy="25.50" r="2.5" fill="rgba(25,25,75,0.5)"/><circle cx="42.80" cy="24.75" r="1.95" fill="rgba(236,238,255,0.72)"/>
<circle cx="38.40" cy="27.50" r="1.8" fill="rgba(25,25,75,0.5)"/><circle cx="37.80" cy="26.75" r="1.40" fill="rgba(236,238,255,0.72)"/>
<circle cx="30.40" cy="40.50" r="1.5" fill="rgba(25,25,75,0.5)"/><circle cx="29.80" cy="39.75" r="1.17" fill="rgba(236,238,255,0.72)"/>
<circle cx="50.40" cy="5.50" r="2" fill="rgba(25,25,75,0.5)"/><circle cx="49.80" cy="4.75" r="1.56" fill="rgba(236,238,255,0.72)"/>
<circle cx="62.40" cy="10.50" r="2" fill="rgba(25,25,75,0.5)"/><circle cx="61.80" cy="9.75" r="1.56" fill="rgba(236,238,255,0.72)"/>
<circle cx="66.40" cy="16.50" r="2.2" fill="rgba(25,25,75,0.5)"/><circle cx="65.80" cy="15.75" r="1.72" fill="rgba(236,238,255,0.72)"/>
<circle cx="70.40" cy="8.50" r="2" fill="rgba(25,25,75,0.5)"/><circle cx="69.80" cy="7.75" r="1.56" fill="rgba(236,238,255,0.72)"/>
<circle cx="74.40" cy="20.50" r="1.8" fill="rgba(25,25,75,0.5)"/><circle cx="73.80" cy="19.75" r="1.40" fill="rgba(236,238,255,0.72)"/>
<circle cx="62.40" cy="24.50" r="2" fill="rgba(25,25,75,0.5)"/><circle cx="61.80" cy="23.75" r="1.56" fill="rgba(236,238,255,0.72)"/>
<circle cx="68.40" cy="30.50" r="1.8" fill="rgba(25,25,75,0.5)"/><circle cx="67.80" cy="29.75" r="1.40" fill="rgba(236,238,255,0.72)"/>
<circle cx="58.40" cy="32.50" r="1.6" fill="rgba(25,25,75,0.5)"/><circle cx="57.80" cy="31.75" r="1.25" fill="rgba(236,238,255,0.72)"/>
<circle cx="72.40" cy="34.50" r="1.6" fill="rgba(25,25,75,0.5)"/><circle cx="71.80" cy="33.75" r="1.25" fill="rgba(236,238,255,0.72)"/>
<circle cx="75.40" cy="12.50" r="1.5" fill="rgba(25,25,75,0.5)"/><circle cx="74.80" cy="11.75" r="1.17" fill="rgba(236,238,255,0.72)"/>
<circle cx="10.40" cy="55.50" r="2" fill="rgba(25,25,75,0.5)"/><circle cx="9.80" cy="54.75" r="1.56" fill="rgba(236,238,255,0.72)"/>
<circle cx="14.40" cy="60.50" r="2.2" fill="rgba(25,25,75,0.5)"/><circle cx="13.80" cy="59.75" r="1.72" fill="rgba(236,238,255,0.72)"/>
<circle cx="9.40" cy="66.50" r="1.8" fill="rgba(25,25,75,0.5)"/><circle cx="8.80" cy="65.75" r="1.40" fill="rgba(236,238,255,0.72)"/>
<circle cx="15.40" cy="69.50" r="1.5" fill="rgba(25,25,75,0.5)"/><circle cx="14.80" cy="68.75" r="1.17" fill="rgba(236,238,255,0.72)"/>
<circle cx="20.40" cy="63.50" r="1.5" fill="rgba(25,25,75,0.5)"/><circle cx="19.80" cy="62.75" r="1.17" fill="rgba(236,238,255,0.72)"/>
<circle cx="36.40" cy="56.50" r="2" fill="rgba(25,25,75,0.5)"/><circle cx="35.80" cy="55.75" r="1.56" fill="rgba(236,238,255,0.72)"/>
<circle cx="42.40" cy="60.50" r="2.2" fill="rgba(25,25,75,0.5)"/><circle cx="41.80" cy="59.75" r="1.72" fill="rgba(236,238,255,0.72)"/>
<circle cx="47.40" cy="55.50" r="1.8" fill="rgba(25,25,75,0.5)"/><circle cx="46.80" cy="54.75" r="1.40" fill="rgba(236,238,255,0.72)"/>
<circle cx="40.40" cy="64.50" r="1.5" fill="rgba(25,25,75,0.5)"/><circle cx="39.80" cy="63.75" r="1.17" fill="rgba(236,238,255,0.72)"/>
<circle cx="50.40" cy="62.50" r="1.6" fill="rgba(25,25,75,0.5)"/><circle cx="49.80" cy="61.75" r="1.25" fill="rgba(236,238,255,0.72)"/>
<circle cx="72.40" cy="66.50" r="2.5" fill="rgba(25,25,75,0.5)"/><circle cx="71.80" cy="65.75" r="1.95" fill="rgba(236,238,255,0.72)"/>
<circle cx="4.40" cy="41.50" r="2" fill="rgba(25,25,75,0.5)"/><circle cx="3.80" cy="40.75" r="1.56" fill="rgba(236,238,255,0.72)"/>
<circle cx="23.40" cy="23.50" r="1.6" fill="rgba(25,25,75,0.5)"/><circle cx="22.80" cy="22.75" r="1.25" fill="rgba(236,238,255,0.72)"/>
<circle cx="56.40" cy="38.50" r="1.5" fill="rgba(25,25,75,0.5)"/><circle cx="55.80" cy="37.75" r="1.17" fill="rgba(236,238,255,0.72)"/>
<circle cx="74.00" cy="23.90" r="1.9" fill="rgba(25,25,75,0.5)"/><circle cx="73.40" cy="23.15" r="1.48" fill="rgba(236,238,255,0.72)"/>
<circle cx="60.20" cy="24.70" r="2.2" fill="rgba(25,25,75,0.5)"/><circle cx="59.60" cy="23.95" r="1.72" fill="rgba(236,238,255,0.72)"/>
<circle cx="66.90" cy="8.10" r="2.2" fill="rgba(25,25,75,0.5)"/><circle cx="66.30" cy="7.35" r="1.72" fill="rgba(236,238,255,0.72)"/>
<circle cx="71.90" cy="10.80" r="1.9" fill="rgba(25,25,75,0.5)"/><circle cx="71.30" cy="10.05" r="1.48" fill="rgba(236,238,255,0.72)"/>
<circle cx="78.30" cy="11.20" r="2.1" fill="rgba(25,25,75,0.5)"/><circle cx="77.70" cy="10.45" r="1.64" fill="rgba(236,238,255,0.72)"/>
<circle cx="72.40" cy="11.60" r="1.4" fill="rgba(25,25,75,0.5)"/><circle cx="71.80" cy="10.85" r="1.09" fill="rgba(236,238,255,0.72)"/>
<circle cx="77.50" cy="15.40" r="1.6" fill="rgba(25,25,75,0.5)"/><circle cx="76.90" cy="14.65" r="1.25" fill="rgba(236,238,255,0.72)"/>
<circle cx="71.50" cy="18.60" r="1.2" fill="rgba(25,25,75,0.5)"/><circle cx="70.90" cy="17.85" r="0.94" fill="rgba(236,238,255,0.72)"/>
<circle cx="63.60" cy="19.60" r="2.0" fill="rgba(25,25,75,0.5)"/><circle cx="63.00" cy="18.85" r="1.56" fill="rgba(236,238,255,0.72)"/>
<circle cx="70.50" cy="18.30" r="1.4" fill="rgba(25,25,75,0.5)"/><circle cx="69.90" cy="17.55" r="1.09" fill="rgba(236,238,255,0.72)"/>
<circle cx="12.30" cy="54.90" r="1.3" fill="rgba(25,25,75,0.5)"/><circle cx="11.70" cy="54.15" r="1.01" fill="rgba(236,238,255,0.72)"/>
<circle cx="16.90" cy="60.60" r="2.0" fill="rgba(25,25,75,0.5)"/><circle cx="16.30" cy="59.85" r="1.56" fill="rgba(236,238,255,0.72)"/>
<circle cx="20.00" cy="68.90" r="1.2" fill="rgba(25,25,75,0.5)"/><circle cx="19.40" cy="68.15" r="0.94" fill="rgba(236,238,255,0.72)"/>
<circle cx="15.30" cy="63.90" r="1.2" fill="rgba(25,25,75,0.5)"/><circle cx="14.70" cy="63.15" r="0.94" fill="rgba(236,238,255,0.72)"/>
<circle cx="14.00" cy="57.80" r="1.4" fill="rgba(25,25,75,0.5)"/><circle cx="13.40" cy="57.05" r="1.09" fill="rgba(236,238,255,0.72)"/>
<circle cx="19.20" cy="59.80" r="1.3" fill="rgba(25,25,75,0.5)"/><circle cx="18.60" cy="59.05" r="1.01" fill="rgba(236,238,255,0.72)"/>
<circle cx="46.60" cy="62.10" r="1.3" fill="rgba(25,25,75,0.5)"/><circle cx="46.00" cy="61.35" r="1.01" fill="rgba(236,238,255,0.72)"/>
<circle cx="35.60" cy="62.30" r="1.9" fill="rgba(25,25,75,0.5)"/><circle cx="35.00" cy="61.55" r="1.48" fill="rgba(236,238,255,0.72)"/>
<circle cx="37.20" cy="55.80" r="1.8" fill="rgba(25,25,75,0.5)"/><circle cx="36.60" cy="55.05" r="1.40" fill="rgba(236,238,255,0.72)"/>
<circle cx="42.30" cy="58.70" r="1.5" fill="rgba(25,25,75,0.5)"/><circle cx="41.70" cy="57.95" r="1.17" fill="rgba(236,238,255,0.72)"/>
<circle cx="34.60" cy="59.30" r="1.4" fill="rgba(25,25,75,0.5)"/><circle cx="34.00" cy="58.55" r="1.09" fill="rgba(236,238,255,0.72)"/>
<circle cx="40.80" cy="60.60" r="1.7" fill="rgba(25,25,75,0.5)"/><circle cx="40.20" cy="59.85" r="1.33" fill="rgba(236,238,255,0.72)"/>
<circle cx="30.30" cy="29.40" r="1.5" fill="rgba(25,25,75,0.5)"/><circle cx="29.70" cy="28.65" r="1.17" fill="rgba(236,238,255,0.72)"/>
<circle cx="34.60" cy="32.90" r="1.5" fill="rgba(25,25,75,0.5)"/><circle cx="34.00" cy="32.15" r="1.17" fill="rgba(236,238,255,0.72)"/>
<circle cx="43.40" cy="22.40" r="1.6" fill="rgba(25,25,75,0.5)"/><circle cx="42.80" cy="21.65" r="1.25" fill="rgba(236,238,255,0.72)"/>
<circle cx="42.10" cy="36.20" r="1.3" fill="rgba(25,25,75,0.5)"/><circle cx="41.50" cy="35.45" r="1.01" fill="rgba(236,238,255,0.72)"/>
<circle cx="45.00" cy="21.20" r="1.6" fill="rgba(25,25,75,0.5)"/><circle cx="44.40" cy="20.45" r="1.25" fill="rgba(236,238,255,0.72)"/>
</g>
<defs><filter id="pf2" filterUnits="userSpaceOnUse" x="218.5" y="216.7" width="78.3" height="73.1" color-interpolation-filters="sRGB"><feTurbulence type="turbulence" baseFrequency="0.08" numOctaves="2" seed="24" result="n"/><feColorMatrix in="n" type="luminanceToAlpha" result="na"/><feGaussianBlur in="SourceAlpha" stdDeviation="0.9" result="eb"/><feComposite in="na" in2="eb" operator="arithmetic" k1="0" k2="0.40" k3="0.60" k4="0"/><feDiffuseLighting surfaceScale="3" diffuseConstant="1" lighting-color="#fff"><feDistantLight azimuth="225" elevation="55"/></feDiffuseLighting><feColorMatrix type="matrix" values="0.420 0 0 0 0.1128 0.420 0 0 0 0.1599 0.420 0 0 0 0.4971 0 0 0 0 1"/></filter></defs>
<g filter="url(#pf2)"><rect x="218.5" y="216.7" width="78.3" height="73.1" fill="none"/><use href="#mz2" transform="translate(218.5,216.7)" stroke="#000" stroke-width="1.1" fill="none"/></g>
<g transform="translate(218.5,216.7)" filter="url(#soft2)">
<circle cx="32.40" cy="40.50" r="3.5" fill="rgba(25,25,75,0.5)"/><circle cx="31.80" cy="39.75" r="2.73" fill="rgba(236,238,255,0.72)"/>
<circle cx="44.40" cy="39.50" r="3" fill="rgba(25,25,75,0.5)"/><circle cx="43.80" cy="38.75" r="2.34" fill="rgba(236,238,255,0.72)"/>
<circle cx="51.40" cy="50.50" r="4.5" fill="rgba(25,25,75,0.5)"/><circle cx="50.80" cy="49.75" r="3.51" fill="rgba(236,238,255,0.72)"/>
<circle cx="37.40" cy="37.50" r="1.5" fill="rgba(25,25,75,0.5)"/><circle cx="36.80" cy="36.75" r="1.17" fill="rgba(236,238,255,0.72)"/>
</g>
<defs><filter id="pf3" filterUnits="userSpaceOnUse" x="301.2" y="216.7" width="77.8" height="73.1" color-interpolation-filters="sRGB"><feTurbulence type="turbulence" baseFrequency="0.08" numOctaves="2" seed="31" result="n"/><feColorMatrix in="n" type="luminanceToAlpha" result="na"/><feGaussianBlur in="SourceAlpha" stdDeviation="0.9" result="eb"/><feComposite in="na" in2="eb" operator="arithmetic" k1="0" k2="0.40" k3="0.60" k4="0"/><feDiffuseLighting surfaceScale="3" diffuseConstant="1" lighting-color="#fff"><feDistantLight azimuth="225" elevation="55"/></feDiffuseLighting><feColorMatrix type="matrix" values="0.420 0 0 0 0.2135 0.420 0 0 0 0.2292 0.420 0 0 0 0.4840 0 0 0 0 1"/></filter></defs>
<g filter="url(#pf3)"><rect x="301.2" y="216.7" width="77.8" height="73.1" fill="none"/><use href="#mz0" transform="translate(379.0,216.7) scale(-1,1)" stroke="#000" stroke-width="1.1" fill="none"/></g>
<g transform="translate(301.2,216.7)" filter="url(#soft2)">
<circle cx="29.40" cy="29.50" r="2.8" fill="rgba(25,25,75,0.5)"/><circle cx="28.80" cy="28.75" r="2.18" fill="rgba(236,238,255,0.72)"/>
<circle cx="36.40" cy="33.50" r="3.2" fill="rgba(25,25,75,0.5)"/><circle cx="35.80" cy="32.75" r="2.50" fill="rgba(236,238,255,0.72)"/>
<circle cx="40.40" cy="38.50" r="2.6" fill="rgba(25,25,75,0.5)"/><circle cx="39.80" cy="37.75" r="2.03" fill="rgba(236,238,255,0.72)"/>
<circle cx="42.40" cy="31.50" r="1.6" fill="rgba(25,25,75,0.5)"/><circle cx="41.80" cy="30.75" r="1.25" fill="rgba(236,238,255,0.72)"/>
<circle cx="30.40" cy="53.50" r="3" fill="rgba(25,25,75,0.5)"/><circle cx="29.80" cy="52.75" r="2.34" fill="rgba(236,238,255,0.72)"/>
<circle cx="42.40" cy="12.50" r="2.6" fill="rgba(25,25,75,0.5)"/><circle cx="41.80" cy="11.75" r="2.03" fill="rgba(236,238,255,0.72)"/>
<circle cx="68.40" cy="8.50" r="2.5" fill="rgba(25,25,75,0.5)"/><circle cx="67.80" cy="7.75" r="1.95" fill="rgba(236,238,255,0.72)"/>
<circle cx="64.40" cy="36.50" r="1.6" fill="rgba(25,25,75,0.5)"/><circle cx="63.80" cy="35.75" r="1.25" fill="rgba(236,238,255,0.72)"/>
<circle cx="52.40" cy="61.50" r="1.6" fill="rgba(25,25,75,0.5)"/><circle cx="51.80" cy="60.75" r="1.25" fill="rgba(236,238,255,0.72)"/>
<circle cx="9.40" cy="72.50" r="2" fill="rgba(25,25,75,0.5)"/><circle cx="8.80" cy="71.75" r="1.56" fill="rgba(236,238,255,0.72)"/>
</g>
<defs><filter id="pf4" filterUnits="userSpaceOnUse" x="383.8" y="216.7" width="78.0" height="73.1" color-interpolation-filters="sRGB"><feTurbulence type="turbulence" baseFrequency="0.08" numOctaves="2" seed="38" result="n"/><feColorMatrix in="n" type="luminanceToAlpha" result="na"/><feGaussianBlur in="SourceAlpha" stdDeviation="0.9" result="eb"/><feComposite in="na" in2="eb" operator="arithmetic" k1="0" k2="0.40" k3="0.60" k4="0"/><feDiffuseLighting surfaceScale="3" diffuseConstant="1" lighting-color="#fff"><feDistantLight azimuth="225" elevation="55"/></feDiffuseLighting><feColorMatrix type="matrix" values="0.420 0 0 0 0.1854 0.420 0 0 0 0.2011 0.420 0 0 0 0.4991 0 0 0 0 1"/></filter></defs>
<g filter="url(#pf4)"><rect x="383.8" y="216.7" width="78.0" height="73.1" fill="none"/><use href="#mz2" transform="translate(461.8,216.7) scale(-1,1)" stroke="#000" stroke-width="1.1" fill="none"/></g>
<g transform="translate(383.8,216.7)" filter="url(#soft2)">
<circle cx="31.40" cy="33.50" r="2.6" fill="rgba(25,25,75,0.5)"/><circle cx="30.80" cy="32.75" r="2.03" fill="rgba(236,238,255,0.72)"/>
<circle cx="22.40" cy="38.50" r="2.6" fill="rgba(25,25,75,0.5)"/><circle cx="21.80" cy="37.75" r="2.03" fill="rgba(236,238,255,0.72)"/>
<circle cx="21.40" cy="44.50" r="2.4" fill="rgba(25,25,75,0.5)"/><circle cx="20.80" cy="43.75" r="1.87" fill="rgba(236,238,255,0.72)"/>
<circle cx="64.40" cy="17.50" r="2.4" fill="rgba(25,25,75,0.5)"/><circle cx="63.80" cy="16.75" r="1.87" fill="rgba(236,238,255,0.72)"/>
<circle cx="56.40" cy="4.50" r="2" fill="rgba(25,25,75,0.5)"/><circle cx="55.80" cy="3.75" r="1.56" fill="rgba(236,238,255,0.72)"/>
<circle cx="40.40" cy="4.50" r="2.2" fill="rgba(25,25,75,0.5)"/><circle cx="39.80" cy="3.75" r="1.72" fill="rgba(236,238,255,0.72)"/>
<circle cx="72.40" cy="4.50" r="2" fill="rgba(25,25,75,0.5)"/><circle cx="71.80" cy="3.75" r="1.56" fill="rgba(236,238,255,0.72)"/>
<circle cx="71.40" cy="35.50" r="2.4" fill="rgba(25,25,75,0.5)"/><circle cx="70.80" cy="34.75" r="1.87" fill="rgba(236,238,255,0.72)"/>
<circle cx="63.40" cy="42.50" r="2.6" fill="rgba(25,25,75,0.5)"/><circle cx="62.80" cy="41.75" r="2.03" fill="rgba(236,238,255,0.72)"/>
<circle cx="71.40" cy="55.50" r="2.4" fill="rgba(25,25,75,0.5)"/><circle cx="70.80" cy="54.75" r="1.87" fill="rgba(236,238,255,0.72)"/>
<circle cx="26.40" cy="61.50" r="2.6" fill="rgba(25,25,75,0.5)"/><circle cx="25.80" cy="60.75" r="2.03" fill="rgba(236,238,255,0.72)"/>
<circle cx="28.40" cy="67.50" r="2.6" fill="rgba(25,25,75,0.5)"/><circle cx="27.80" cy="66.75" r="2.03" fill="rgba(236,238,255,0.72)"/>
<circle cx="33.40" cy="57.50" r="2" fill="rgba(25,25,75,0.5)"/><circle cx="32.80" cy="56.75" r="1.56" fill="rgba(236,238,255,0.72)"/>
<circle cx="7.40" cy="51.50" r="2" fill="rgba(25,25,75,0.5)"/><circle cx="6.80" cy="50.75" r="1.56" fill="rgba(236,238,255,0.72)"/>
<circle cx="4.40" cy="64.50" r="2" fill="rgba(25,25,75,0.5)"/><circle cx="3.80" cy="63.75" r="1.56" fill="rgba(236,238,255,0.72)"/>
<circle cx="39.40" cy="25.50" r="2" fill="rgba(25,25,75,0.5)"/><circle cx="38.80" cy="24.75" r="1.56" fill="rgba(236,238,255,0.72)"/>
</g>
<defs><filter id="pf5" filterUnits="userSpaceOnUse" x="466.7" y="216.7" width="78.3" height="73.1" color-interpolation-filters="sRGB"><feTurbulence type="turbulence" baseFrequency="0.08" numOctaves="2" seed="45" result="n"/><feColorMatrix in="n" type="luminanceToAlpha" result="na"/><feGaussianBlur in="SourceAlpha" stdDeviation="0.9" result="eb"/><feComposite in="na" in2="eb" operator="arithmetic" k1="0" k2="0.40" k3="0.60" k4="0"/><feDiffuseLighting surfaceScale="3" diffuseConstant="1" lighting-color="#fff"><feDistantLight azimuth="225" elevation="55"/></feDiffuseLighting><feColorMatrix type="matrix" values="0.420 0 0 0 0.1181 0.420 0 0 0 0.1181 0.420 0 0 0 0.4829 0 0 0 0 1"/></filter></defs>
<g filter="url(#pf5)"><rect x="466.7" y="216.7" width="78.3" height="73.1" fill="none"/><use href="#mz1" transform="translate(466.7,216.7)" stroke="#000" stroke-width="1.1" fill="none"/></g>
<g transform="translate(466.7,216.7)" filter="url(#soft2)">
<circle cx="27.40" cy="10.50" r="2.5" fill="rgba(25,25,75,0.5)"/><circle cx="26.80" cy="9.75" r="1.95" fill="rgba(236,238,255,0.72)"/>
<circle cx="39.40" cy="7.50" r="2.5" fill="rgba(25,25,75,0.5)"/><circle cx="38.80" cy="6.75" r="1.95" fill="rgba(236,238,255,0.72)"/>
<circle cx="63.40" cy="30.50" r="2.3" fill="rgba(25,25,75,0.5)"/><circle cx="62.80" cy="29.75" r="1.79" fill="rgba(236,238,255,0.72)"/>
<circle cx="66.40" cy="26.50" r="1.8" fill="rgba(25,25,75,0.5)"/><circle cx="65.80" cy="25.75" r="1.40" fill="rgba(236,238,255,0.72)"/>
<circle cx="25.40" cy="63.50" r="2.2" fill="rgba(25,25,75,0.5)"/><circle cx="24.80" cy="62.75" r="1.72" fill="rgba(236,238,255,0.72)"/>
</g>
<defs><filter id="pf6" filterUnits="userSpaceOnUse" x="53.3" y="295.4" width="78.7" height="72.2" color-interpolation-filters="sRGB"><feTurbulence type="turbulence" baseFrequency="0.08" numOctaves="2" seed="52" result="n"/><feColorMatrix in="n" type="luminanceToAlpha" result="na"/><feGaussianBlur in="SourceAlpha" stdDeviation="0.9" result="eb"/><feComposite in="na" in2="eb" operator="arithmetic" k1="0" k2="0.40" k3="0.60" k4="0"/><feDiffuseLighting surfaceScale="3" diffuseConstant="1" lighting-color="#fff"><feDistantLight azimuth="225" elevation="55"/></feDiffuseLighting><feColorMatrix type="matrix" values="0.420 0 0 0 0.1589 0.420 0 0 0 0.1706 0.420 0 0 0 0.5982 0 0 0 0 1"/></filter></defs>
<g filter="url(#pf6)"><rect x="53.3" y="295.4" width="78.7" height="72.2" fill="none"/><use href="#mz2" transform="translate(53.3,295.4)" stroke="#000" stroke-width="1.1" fill="none"/></g>
<g transform="translate(53.3,295.4)" filter="url(#soft2)">
<circle cx="12.40" cy="33.50" r="2.2" fill="rgba(25,25,75,0.5)"/><circle cx="11.80" cy="32.75" r="1.72" fill="rgba(236,238,255,0.72)"/>
<circle cx="56.40" cy="47.50" r="1.8" fill="rgba(25,25,75,0.5)"/><circle cx="55.80" cy="46.75" r="1.40" fill="rgba(236,238,255,0.72)"/>
<circle cx="57.40" cy="44.50" r="1.8" fill="rgba(25,25,75,0.5)"/><circle cx="56.80" cy="43.75" r="1.40" fill="rgba(236,238,255,0.72)"/>
<circle cx="53.40" cy="53.50" r="2.2" fill="rgba(25,25,75,0.5)"/><circle cx="52.80" cy="52.75" r="1.72" fill="rgba(236,238,255,0.72)"/>
<circle cx="58.40" cy="55.50" r="1.8" fill="rgba(25,25,75,0.5)"/><circle cx="57.80" cy="54.75" r="1.40" fill="rgba(236,238,255,0.72)"/>
<circle cx="19.40" cy="42.50" r="1.6" fill="rgba(25,25,75,0.5)"/><circle cx="18.80" cy="41.75" r="1.25" fill="rgba(236,238,255,0.72)"/>
<circle cx="19.40" cy="46.50" r="1.6" fill="rgba(25,25,75,0.5)"/><circle cx="18.80" cy="45.75" r="1.25" fill="rgba(236,238,255,0.72)"/>
<circle cx="38.40" cy="68.50" r="2" fill="rgba(25,25,75,0.5)"/><circle cx="37.80" cy="67.75" r="1.56" fill="rgba(236,238,255,0.72)"/>
<circle cx="35.40" cy="4.50" r="1.8" fill="rgba(25,25,75,0.5)"/><circle cx="34.80" cy="3.75" r="1.40" fill="rgba(236,238,255,0.72)"/>
<circle cx="41.40" cy="8.50" r="1.8" fill="rgba(25,25,75,0.5)"/><circle cx="40.80" cy="7.75" r="1.40" fill="rgba(236,238,255,0.72)"/>
<circle cx="42.40" cy="12.50" r="1.6" fill="rgba(25,25,75,0.5)"/><circle cx="41.80" cy="11.75" r="1.25" fill="rgba(236,238,255,0.72)"/>
<circle cx="12.40" cy="12.50" r="1.6" fill="rgba(25,25,75,0.5)"/><circle cx="11.80" cy="11.75" r="1.25" fill="rgba(236,238,255,0.72)"/>
<circle cx="47.40" cy="34.50" r="1.5" fill="rgba(25,25,75,0.5)"/><circle cx="46.80" cy="33.75" r="1.17" fill="rgba(236,238,255,0.72)"/>
</g>
<defs><filter id="pf7" filterUnits="userSpaceOnUse" x="135.9" y="295.4" width="78.1" height="72.2" color-interpolation-filters="sRGB"><feTurbulence type="turbulence" baseFrequency="0.08" numOctaves="2" seed="59" result="n"/><feColorMatrix in="n" type="luminanceToAlpha" result="na"/><feGaussianBlur in="SourceAlpha" stdDeviation="0.9" result="eb"/><feComposite in="na" in2="eb" operator="arithmetic" k1="0" k2="0.40" k3="0.60" k4="0"/><feDiffuseLighting surfaceScale="3" diffuseConstant="1" lighting-color="#fff"><feDistantLight azimuth="225" elevation="55"/></feDiffuseLighting><feColorMatrix type="matrix" values="0.280 0 0 0 0.3177 0.280 0 0 0 0.3177 0.280 0 0 0 0.5215 0 0 0 0 1"/></filter></defs>
<g filter="url(#pf7)"><rect x="135.9" y="295.4" width="78.1" height="72.2" fill="none"/><use href="#mz3" transform="translate(135.9,295.4)" stroke="#000" stroke-width="1.1" fill="none"/></g>
<g transform="translate(135.9,295.4)" filter="url(#soft2)">
<circle cx="48.6" cy="63.1" r="4.00" fill="none" stroke="rgba(235,235,255,0.4)" stroke-width="0.8"/><circle cx="48.6" cy="63.1" r="3.3" fill="rgba(80,80,130,0.2)" stroke="rgba(50,50,100,0.38)" stroke-width="0.8"/><circle cx="47.61" cy="62.11" r="0.99" fill="rgba(240,240,255,0.3)"/>
<circle cx="19.4" cy="23.1" r="4.10" fill="none" stroke="rgba(235,235,255,0.4)" stroke-width="0.8"/><circle cx="19.4" cy="23.1" r="3.4" fill="rgba(80,80,130,0.2)" stroke="rgba(50,50,100,0.38)" stroke-width="0.8"/><circle cx="18.38" cy="22.08" r="1.02" fill="rgba(240,240,255,0.3)"/>
<circle cx="3.4" cy="58.0" r="4.00" fill="none" stroke="rgba(235,235,255,0.4)" stroke-width="0.8"/><circle cx="3.4" cy="58.0" r="3.3" fill="rgba(80,80,130,0.2)" stroke="rgba(50,50,100,0.38)" stroke-width="0.8"/><circle cx="2.41" cy="57.01" r="0.99" fill="rgba(240,240,255,0.3)"/>
<circle cx="37.2" cy="23.3" r="3.30" fill="none" stroke="rgba(235,235,255,0.4)" stroke-width="0.8"/><circle cx="37.2" cy="23.3" r="2.6" fill="rgba(80,80,130,0.2)" stroke="rgba(50,50,100,0.38)" stroke-width="0.8"/><circle cx="36.42" cy="22.52" r="0.78" fill="rgba(240,240,255,0.3)"/>
<circle cx="21.6" cy="32.8" r="3.60" fill="none" stroke="rgba(235,235,255,0.4)" stroke-width="0.8"/><circle cx="21.6" cy="32.8" r="2.9" fill="rgba(80,80,130,0.2)" stroke="rgba(50,50,100,0.38)" stroke-width="0.8"/><circle cx="20.73" cy="31.93" r="0.87" fill="rgba(240,240,255,0.3)"/>
<circle cx="43.4" cy="69.7" r="4.00" fill="none" stroke="rgba(235,235,255,0.4)" stroke-width="0.8"/><circle cx="43.4" cy="69.7" r="3.3" fill="rgba(80,80,130,0.2)" stroke="rgba(50,50,100,0.38)" stroke-width="0.8"/><circle cx="42.41" cy="68.71" r="0.99" fill="rgba(240,240,255,0.3)"/>
<circle cx="48.4" cy="69.3" r="3.20" fill="none" stroke="rgba(235,235,255,0.4)" stroke-width="0.8"/><circle cx="48.4" cy="69.3" r="2.5" fill="rgba(80,80,130,0.2)" stroke="rgba(50,50,100,0.38)" stroke-width="0.8"/><circle cx="47.65" cy="68.55" r="0.75" fill="rgba(240,240,255,0.3)"/>
<circle cx="14.7" cy="44.0" r="3.00" fill="none" stroke="rgba(235,235,255,0.4)" stroke-width="0.8"/><circle cx="14.7" cy="44.0" r="2.3" fill="rgba(80,80,130,0.2)" stroke="rgba(50,50,100,0.38)" stroke-width="0.8"/><circle cx="14.01" cy="43.31" r="0.69" fill="rgba(240,240,255,0.3)"/>
<circle cx="5.6" cy="37.5" r="3.60" fill="none" stroke="rgba(235,235,255,0.4)" stroke-width="0.8"/><circle cx="5.6" cy="37.5" r="2.9" fill="rgba(80,80,130,0.2)" stroke="rgba(50,50,100,0.38)" stroke-width="0.8"/><circle cx="4.73" cy="36.63" r="0.87" fill="rgba(240,240,255,0.3)"/>
<circle cx="70.0" cy="45.2" r="3.60" fill="none" stroke="rgba(235,235,255,0.4)" stroke-width="0.8"/><circle cx="70.0" cy="45.2" r="2.9" fill="rgba(80,80,130,0.2)" stroke="rgba(50,50,100,0.38)" stroke-width="0.8"/><circle cx="69.13" cy="44.33" r="0.87" fill="rgba(240,240,255,0.3)"/>
<circle cx="39.3" cy="19.6" r="2.90" fill="none" stroke="rgba(235,235,255,0.4)" stroke-width="0.8"/><circle cx="39.3" cy="19.6" r="2.2" fill="rgba(80,80,130,0.2)" stroke="rgba(50,50,100,0.38)" stroke-width="0.8"/><circle cx="38.64" cy="18.94" r="0.66" fill="rgba(240,240,255,0.3)"/>
<circle cx="17.0" cy="49.4" r="3.20" fill="none" stroke="rgba(235,235,255,0.4)" stroke-width="0.8"/><circle cx="17.0" cy="49.4" r="2.5" fill="rgba(80,80,130,0.2)" stroke="rgba(50,50,100,0.38)" stroke-width="0.8"/><circle cx="16.25" cy="48.65" r="0.75" fill="rgba(240,240,255,0.3)"/>
<circle cx="30.0" cy="3.3" r="4.10" fill="none" stroke="rgba(235,235,255,0.4)" stroke-width="0.8"/><circle cx="30.0" cy="3.3" r="3.4" fill="rgba(80,80,130,0.2)" stroke="rgba(50,50,100,0.38)" stroke-width="0.8"/><circle cx="28.98" cy="2.28" r="1.02" fill="rgba(240,240,255,0.3)"/>
<circle cx="14.3" cy="20.9" r="4.10" fill="none" stroke="rgba(235,235,255,0.4)" stroke-width="0.8"/><circle cx="14.3" cy="20.9" r="3.4" fill="rgba(80,80,130,0.2)" stroke="rgba(50,50,100,0.38)" stroke-width="0.8"/><circle cx="13.28" cy="19.88" r="1.02" fill="rgba(240,240,255,0.3)"/>
<circle cx="40.2" cy="59.8" r="3.80" fill="none" stroke="rgba(235,235,255,0.4)" stroke-width="0.8"/><circle cx="40.2" cy="59.8" r="3.1" fill="rgba(80,80,130,0.2)" stroke="rgba(50,50,100,0.38)" stroke-width="0.8"/><circle cx="39.27" cy="58.87" r="0.93" fill="rgba(240,240,255,0.3)"/>
<circle cx="57.1" cy="9.1" r="3.70" fill="none" stroke="rgba(235,235,255,0.4)" stroke-width="0.8"/><circle cx="57.1" cy="9.1" r="3.0" fill="rgba(80,80,130,0.2)" stroke="rgba(50,50,100,0.38)" stroke-width="0.8"/><circle cx="56.20" cy="8.20" r="0.90" fill="rgba(240,240,255,0.3)"/>
<circle cx="40.1" cy="61.4" r="3.40" fill="none" stroke="rgba(235,235,255,0.4)" stroke-width="0.8"/><circle cx="40.1" cy="61.4" r="2.7" fill="rgba(80,80,130,0.2)" stroke="rgba(50,50,100,0.38)" stroke-width="0.8"/><circle cx="39.29" cy="60.59" r="0.81" fill="rgba(240,240,255,0.3)"/>
<circle cx="46.7" cy="7.0" r="3.40" fill="none" stroke="rgba(235,235,255,0.4)" stroke-width="0.8"/><circle cx="46.7" cy="7.0" r="2.7" fill="rgba(80,80,130,0.2)" stroke="rgba(50,50,100,0.38)" stroke-width="0.8"/><circle cx="45.89" cy="6.19" r="0.81" fill="rgba(240,240,255,0.3)"/>
<circle cx="26.6" cy="13.1" r="4.00" fill="none" stroke="rgba(235,235,255,0.4)" stroke-width="0.8"/><circle cx="26.6" cy="13.1" r="3.3" fill="rgba(80,80,130,0.2)" stroke="rgba(50,50,100,0.38)" stroke-width="0.8"/><circle cx="25.61" cy="12.11" r="0.99" fill="rgba(240,240,255,0.3)"/>
<circle cx="30.7" cy="68.6" r="3.70" fill="none" stroke="rgba(235,235,255,0.4)" stroke-width="0.8"/><circle cx="30.7" cy="68.6" r="3.0" fill="rgba(80,80,130,0.2)" stroke="rgba(50,50,100,0.38)" stroke-width="0.8"/><circle cx="29.80" cy="67.70" r="0.90" fill="rgba(240,240,255,0.3)"/>
<circle cx="47.2" cy="45.7" r="3.80" fill="none" stroke="rgba(235,235,255,0.4)" stroke-width="0.8"/><circle cx="47.2" cy="45.7" r="3.1" fill="rgba(80,80,130,0.2)" stroke="rgba(50,50,100,0.38)" stroke-width="0.8"/><circle cx="46.27" cy="44.77" r="0.93" fill="rgba(240,240,255,0.3)"/>
<circle cx="14.0" cy="32.5" r="3.20" fill="none" stroke="rgba(235,235,255,0.4)" stroke-width="0.8"/><circle cx="14.0" cy="32.5" r="2.5" fill="rgba(80,80,130,0.2)" stroke="rgba(50,50,100,0.38)" stroke-width="0.8"/><circle cx="13.25" cy="31.75" r="0.75" fill="rgba(240,240,255,0.3)"/>
<circle cx="32.4" cy="9.5" r="4.30" fill="none" stroke="rgba(235,235,255,0.4)" stroke-width="0.8"/><circle cx="32.4" cy="9.5" r="3.6" fill="rgba(80,80,130,0.2)" stroke="rgba(50,50,100,0.38)" stroke-width="0.8"/><circle cx="31.32" cy="8.42" r="1.08" fill="rgba(240,240,255,0.3)"/>
<circle cx="18.7" cy="48.0" r="3.30" fill="none" stroke="rgba(235,235,255,0.4)" stroke-width="0.8"/><circle cx="18.7" cy="48.0" r="2.6" fill="rgba(80,80,130,0.2)" stroke="rgba(50,50,100,0.38)" stroke-width="0.8"/><circle cx="17.92" cy="47.22" r="0.78" fill="rgba(240,240,255,0.3)"/>
<circle cx="66.8" cy="47.4" r="3.10" fill="none" stroke="rgba(235,235,255,0.4)" stroke-width="0.8"/><circle cx="66.8" cy="47.4" r="2.4" fill="rgba(80,80,130,0.2)" stroke="rgba(50,50,100,0.38)" stroke-width="0.8"/><circle cx="66.08" cy="46.68" r="0.72" fill="rgba(240,240,255,0.3)"/>
<circle cx="64.7" cy="66.3" r="4.20" fill="none" stroke="rgba(235,235,255,0.4)" stroke-width="0.8"/><circle cx="64.7" cy="66.3" r="3.5" fill="rgba(80,80,130,0.2)" stroke="rgba(50,50,100,0.38)" stroke-width="0.8"/><circle cx="63.65" cy="65.25" r="1.05" fill="rgba(240,240,255,0.3)"/>
<circle cx="44.6" cy="12.7" r="3.20" fill="none" stroke="rgba(235,235,255,0.4)" stroke-width="0.8"/><circle cx="44.6" cy="12.7" r="2.5" fill="rgba(80,80,130,0.2)" stroke="rgba(50,50,100,0.38)" stroke-width="0.8"/><circle cx="43.85" cy="11.95" r="0.75" fill="rgba(240,240,255,0.3)"/>
<circle cx="70.7" cy="40.0" r="3.20" fill="none" stroke="rgba(235,235,255,0.4)" stroke-width="0.8"/><circle cx="70.7" cy="40.0" r="2.5" fill="rgba(80,80,130,0.2)" stroke="rgba(50,50,100,0.38)" stroke-width="0.8"/><circle cx="69.95" cy="39.25" r="0.75" fill="rgba(240,240,255,0.3)"/>
<circle cx="67.5" cy="46.0" r="3.70" fill="none" stroke="rgba(235,235,255,0.4)" stroke-width="0.8"/><circle cx="67.5" cy="46.0" r="3.0" fill="rgba(80,80,130,0.2)" stroke="rgba(50,50,100,0.38)" stroke-width="0.8"/><circle cx="66.60" cy="45.10" r="0.90" fill="rgba(240,240,255,0.3)"/>
<circle cx="30.5" cy="30.5" r="3.20" fill="none" stroke="rgba(235,235,255,0.4)" stroke-width="0.8"/><circle cx="30.5" cy="30.5" r="2.5" fill="rgba(80,80,130,0.2)" stroke="rgba(50,50,100,0.38)" stroke-width="0.8"/><circle cx="29.75" cy="29.75" r="0.75" fill="rgba(240,240,255,0.3)"/>
<circle cx="5.8" cy="61.7" r="3.60" fill="none" stroke="rgba(235,235,255,0.4)" stroke-width="0.8"/><circle cx="5.8" cy="61.7" r="2.9" fill="rgba(80,80,130,0.2)" stroke="rgba(50,50,100,0.38)" stroke-width="0.8"/><circle cx="4.93" cy="60.83" r="0.87" fill="rgba(240,240,255,0.3)"/>
<circle cx="43.0" cy="24.6" r="4.00" fill="none" stroke="rgba(235,235,255,0.4)" stroke-width="0.8"/><circle cx="43.0" cy="24.6" r="3.3" fill="rgba(80,80,130,0.2)" stroke="rgba(50,50,100,0.38)" stroke-width="0.8"/><circle cx="42.01" cy="23.61" r="0.99" fill="rgba(240,240,255,0.3)"/>
<circle cx="4.8" cy="27.9" r="2.90" fill="none" stroke="rgba(235,235,255,0.4)" stroke-width="0.8"/><circle cx="4.8" cy="27.9" r="2.2" fill="rgba(80,80,130,0.2)" stroke="rgba(50,50,100,0.38)" stroke-width="0.8"/><circle cx="4.14" cy="27.24" r="0.66" fill="rgba(240,240,255,0.3)"/>
<circle cx="12.0" cy="67.8" r="3.80" fill="none" stroke="rgba(235,235,255,0.4)" stroke-width="0.8"/><circle cx="12.0" cy="67.8" r="3.1" fill="rgba(80,80,130,0.2)" stroke="rgba(50,50,100,0.38)" stroke-width="0.8"/><circle cx="11.07" cy="66.87" r="0.93" fill="rgba(240,240,255,0.3)"/>
<circle cx="36.3" cy="34.6" r="3.30" fill="none" stroke="rgba(235,235,255,0.4)" stroke-width="0.8"/><circle cx="36.3" cy="34.6" r="2.6" fill="rgba(80,80,130,0.2)" stroke="rgba(50,50,100,0.38)" stroke-width="0.8"/><circle cx="35.52" cy="33.82" r="0.78" fill="rgba(240,240,255,0.3)"/>
<circle cx="59.4" cy="31.1" r="3.40" fill="none" stroke="rgba(235,235,255,0.4)" stroke-width="0.8"/><circle cx="59.4" cy="31.1" r="2.7" fill="rgba(80,80,130,0.2)" stroke="rgba(50,50,100,0.38)" stroke-width="0.8"/><circle cx="58.59" cy="30.29" r="0.81" fill="rgba(240,240,255,0.3)"/>
<circle cx="41.9" cy="16.2" r="3.00" fill="none" stroke="rgba(235,235,255,0.4)" stroke-width="0.8"/><circle cx="41.9" cy="16.2" r="2.3" fill="rgba(80,80,130,0.2)" stroke="rgba(50,50,100,0.38)" stroke-width="0.8"/><circle cx="41.21" cy="15.51" r="0.69" fill="rgba(240,240,255,0.3)"/>
<circle cx="43.9" cy="12.2" r="3.20" fill="none" stroke="rgba(235,235,255,0.4)" stroke-width="0.8"/><circle cx="43.9" cy="12.2" r="2.5" fill="rgba(80,80,130,0.2)" stroke="rgba(50,50,100,0.38)" stroke-width="0.8"/><circle cx="43.15" cy="11.45" r="0.75" fill="rgba(240,240,255,0.3)"/>
<circle cx="29.2" cy="10.8" r="3.90" fill="none" stroke="rgba(235,235,255,0.4)" stroke-width="0.8"/><circle cx="29.2" cy="10.8" r="3.2" fill="rgba(80,80,130,0.2)" stroke="rgba(50,50,100,0.38)" stroke-width="0.8"/><circle cx="28.24" cy="9.84" r="0.96" fill="rgba(240,240,255,0.3)"/>
<circle cx="41.1" cy="12.7" r="3.60" fill="none" stroke="rgba(235,235,255,0.4)" stroke-width="0.8"/><circle cx="41.1" cy="12.7" r="2.9" fill="rgba(80,80,130,0.2)" stroke="rgba(50,50,100,0.38)" stroke-width="0.8"/><circle cx="40.23" cy="11.83" r="0.87" fill="rgba(240,240,255,0.3)"/>
<circle cx="50.2" cy="24.4" r="4.00" fill="none" stroke="rgba(235,235,255,0.4)" stroke-width="0.8"/><circle cx="50.2" cy="24.4" r="3.3" fill="rgba(80,80,130,0.2)" stroke="rgba(50,50,100,0.38)" stroke-width="0.8"/><circle cx="49.21" cy="23.41" r="0.99" fill="rgba(240,240,255,0.3)"/>
<circle cx="27.5" cy="16.1" r="3.20" fill="none" stroke="rgba(235,235,255,0.4)" stroke-width="0.8"/><circle cx="27.5" cy="16.1" r="2.5" fill="rgba(80,80,130,0.2)" stroke="rgba(50,50,100,0.38)" stroke-width="0.8"/><circle cx="26.75" cy="15.35" r="0.75" fill="rgba(240,240,255,0.3)"/>
<circle cx="20.8" cy="10.4" r="3.40" fill="none" stroke="rgba(235,235,255,0.4)" stroke-width="0.8"/><circle cx="20.8" cy="10.4" r="2.7" fill="rgba(80,80,130,0.2)" stroke="rgba(50,50,100,0.38)" stroke-width="0.8"/><circle cx="19.99" cy="9.59" r="0.81" fill="rgba(240,240,255,0.3)"/>
<circle cx="39.7" cy="23.5" r="3.40" fill="none" stroke="rgba(235,235,255,0.4)" stroke-width="0.8"/><circle cx="39.7" cy="23.5" r="2.7" fill="rgba(80,80,130,0.2)" stroke="rgba(50,50,100,0.38)" stroke-width="0.8"/><circle cx="38.89" cy="22.69" r="0.81" fill="rgba(240,240,255,0.3)"/>
<circle cx="50.4" cy="11.7" r="3.10" fill="none" stroke="rgba(235,235,255,0.4)" stroke-width="0.8"/><circle cx="50.4" cy="11.7" r="2.4" fill="rgba(80,80,130,0.2)" stroke="rgba(50,50,100,0.38)" stroke-width="0.8"/><circle cx="49.68" cy="10.98" r="0.72" fill="rgba(240,240,255,0.3)"/>
<circle cx="36.5" cy="7.9" r="3.30" fill="none" stroke="rgba(235,235,255,0.4)" stroke-width="0.8"/><circle cx="36.5" cy="7.9" r="2.6" fill="rgba(80,80,130,0.2)" stroke="rgba(50,50,100,0.38)" stroke-width="0.8"/><circle cx="35.72" cy="7.12" r="0.78" fill="rgba(240,240,255,0.3)"/>
<circle cx="43.0" cy="26.6" r="3.90" fill="none" stroke="rgba(235,235,255,0.4)" stroke-width="0.8"/><circle cx="43.0" cy="26.6" r="3.2" fill="rgba(80,80,130,0.2)" stroke="rgba(50,50,100,0.38)" stroke-width="0.8"/><circle cx="42.04" cy="25.64" r="0.96" fill="rgba(240,240,255,0.3)"/>
<circle cx="22.6" cy="33.7" r="3.80" fill="none" stroke="rgba(235,235,255,0.4)" stroke-width="0.8"/><circle cx="22.6" cy="33.7" r="3.1" fill="rgba(80,80,130,0.2)" stroke="rgba(50,50,100,0.38)" stroke-width="0.8"/><circle cx="21.67" cy="32.77" r="0.93" fill="rgba(240,240,255,0.3)"/>
<circle cx="30.8" cy="48.6" r="3.60" fill="none" stroke="rgba(235,235,255,0.4)" stroke-width="0.8"/><circle cx="30.8" cy="48.6" r="2.9" fill="rgba(80,80,130,0.2)" stroke="rgba(50,50,100,0.38)" stroke-width="0.8"/><circle cx="29.93" cy="47.73" r="0.87" fill="rgba(240,240,255,0.3)"/>
<circle cx="27.9" cy="61.5" r="4.00" fill="none" stroke="rgba(235,235,255,0.4)" stroke-width="0.8"/><circle cx="27.9" cy="61.5" r="3.3" fill="rgba(80,80,130,0.2)" stroke="rgba(50,50,100,0.38)" stroke-width="0.8"/><circle cx="26.91" cy="60.51" r="0.99" fill="rgba(240,240,255,0.3)"/>
<circle cx="30.5" cy="67.5" r="2.90" fill="none" stroke="rgba(235,235,255,0.4)" stroke-width="0.8"/><circle cx="30.5" cy="67.5" r="2.2" fill="rgba(80,80,130,0.2)" stroke="rgba(50,50,100,0.38)" stroke-width="0.8"/><circle cx="29.84" cy="66.84" r="0.66" fill="rgba(240,240,255,0.3)"/>
<circle cx="17.0" cy="54.5" r="3.00" fill="none" stroke="rgba(235,235,255,0.4)" stroke-width="0.8"/><circle cx="17.0" cy="54.5" r="2.3" fill="rgba(80,80,130,0.2)" stroke="rgba(50,50,100,0.38)" stroke-width="0.8"/><circle cx="16.31" cy="53.81" r="0.69" fill="rgba(240,240,255,0.3)"/>
<circle cx="3.2" cy="64.9" r="4.10" fill="none" stroke="rgba(235,235,255,0.4)" stroke-width="0.8"/><circle cx="3.2" cy="64.9" r="3.4" fill="rgba(80,80,130,0.2)" stroke="rgba(50,50,100,0.38)" stroke-width="0.8"/><circle cx="2.18" cy="63.88" r="1.02" fill="rgba(240,240,255,0.3)"/>
<circle cx="28.1" cy="49.5" r="3.70" fill="none" stroke="rgba(235,235,255,0.4)" stroke-width="0.8"/><circle cx="28.1" cy="49.5" r="3.0" fill="rgba(80,80,130,0.2)" stroke="rgba(50,50,100,0.38)" stroke-width="0.8"/><circle cx="27.20" cy="48.60" r="0.90" fill="rgba(240,240,255,0.3)"/>
<circle cx="12.6" cy="62.2" r="3.20" fill="none" stroke="rgba(235,235,255,0.4)" stroke-width="0.8"/><circle cx="12.6" cy="62.2" r="2.5" fill="rgba(80,80,130,0.2)" stroke="rgba(50,50,100,0.38)" stroke-width="0.8"/><circle cx="11.85" cy="61.45" r="0.75" fill="rgba(240,240,255,0.3)"/>
<circle cx="28.0" cy="69.6" r="4.10" fill="none" stroke="rgba(235,235,255,0.4)" stroke-width="0.8"/><circle cx="28.0" cy="69.6" r="3.4" fill="rgba(80,80,130,0.2)" stroke="rgba(50,50,100,0.38)" stroke-width="0.8"/><circle cx="26.98" cy="68.58" r="1.02" fill="rgba(240,240,255,0.3)"/>
<circle cx="31.3" cy="67.4" r="3.70" fill="none" stroke="rgba(235,235,255,0.4)" stroke-width="0.8"/><circle cx="31.3" cy="67.4" r="3.0" fill="rgba(80,80,130,0.2)" stroke="rgba(50,50,100,0.38)" stroke-width="0.8"/><circle cx="30.40" cy="66.50" r="0.90" fill="rgba(240,240,255,0.3)"/>
<circle cx="20.7" cy="67.7" r="3.00" fill="none" stroke="rgba(235,235,255,0.4)" stroke-width="0.8"/><circle cx="20.7" cy="67.7" r="2.3" fill="rgba(80,80,130,0.2)" stroke="rgba(50,50,100,0.38)" stroke-width="0.8"/><circle cx="20.01" cy="67.01" r="0.69" fill="rgba(240,240,255,0.3)"/>
</g>
<defs><filter id="pf8" filterUnits="userSpaceOnUse" x="218.5" y="295.4" width="78.3" height="72.2" color-interpolation-filters="sRGB"><feTurbulence type="turbulence" baseFrequency="0.08" numOctaves="2" seed="66" result="n"/><feColorMatrix in="n" type="luminanceToAlpha" result="na"/><feGaussianBlur in="SourceAlpha" stdDeviation="0.9" result="eb"/><feComposite in="na" in2="eb" operator="arithmetic" k1="0" k2="0.40" k3="0.60" k4="0"/><feDiffuseLighting surfaceScale="3" diffuseConstant="1" lighting-color="#fff"><feDistantLight azimuth="225" elevation="55"/></feDiffuseLighting><feColorMatrix type="matrix" values="0.420 0 0 0 0.1320 0.420 0 0 0 0.1516 0.420 0 0 0 0.5830 0 0 0 0 1"/></filter></defs>
<g filter="url(#pf8)"><rect x="218.5" y="295.4" width="78.3" height="72.2" fill="none"/><use href="#mz1" transform="translate(218.5,295.4)" stroke="#000" stroke-width="1.1" fill="none"/></g>
<g transform="translate(218.5,295.4)" filter="url(#soft2)">
<circle cx="43.70" cy="12.90" r="3.0" fill="rgba(25,25,75,0.5)"/><circle cx="43.10" cy="12.15" r="2.34" fill="rgba(236,238,255,0.72)"/>
<circle cx="51.10" cy="9.70" r="2.6" fill="rgba(25,25,75,0.5)"/><circle cx="50.50" cy="8.95" r="2.03" fill="rgba(236,238,255,0.72)"/>
<circle cx="49.60" cy="11.20" r="2.9" fill="rgba(25,25,75,0.5)"/><circle cx="49.00" cy="10.45" r="2.26" fill="rgba(236,238,255,0.72)"/>
<circle cx="44.10" cy="16.50" r="2.7" fill="rgba(25,25,75,0.5)"/><circle cx="43.50" cy="15.75" r="2.11" fill="rgba(236,238,255,0.72)"/>
<circle cx="48.90" cy="21.00" r="2.9" fill="rgba(25,25,75,0.5)"/><circle cx="48.30" cy="20.25" r="2.26" fill="rgba(236,238,255,0.72)"/>
<circle cx="56.70" cy="14.00" r="2.8" fill="rgba(25,25,75,0.5)"/><circle cx="56.10" cy="13.25" r="2.18" fill="rgba(236,238,255,0.72)"/>
<circle cx="52.80" cy="14.20" r="2.2" fill="rgba(25,25,75,0.5)"/><circle cx="52.20" cy="13.45" r="1.72" fill="rgba(236,238,255,0.72)"/>
<circle cx="57.00" cy="14.40" r="2.5" fill="rgba(25,25,75,0.5)"/><circle cx="56.40" cy="13.65" r="1.95" fill="rgba(236,238,255,0.72)"/>
<circle cx="55.80" cy="21.00" r="2.7" fill="rgba(25,25,75,0.5)"/><circle cx="55.20" cy="20.25" r="2.11" fill="rgba(236,238,255,0.72)"/>
<circle cx="54.00" cy="8.20" r="2.9" fill="rgba(25,25,75,0.5)"/><circle cx="53.40" cy="7.45" r="2.26" fill="rgba(236,238,255,0.72)"/>
<circle cx="48.00" cy="9.60" r="2.9" fill="rgba(25,25,75,0.5)"/><circle cx="47.40" cy="8.85" r="2.26" fill="rgba(236,238,255,0.72)"/>
<circle cx="56.40" cy="12.30" r="2.8" fill="rgba(25,25,75,0.5)"/><circle cx="55.80" cy="11.55" r="2.18" fill="rgba(236,238,255,0.72)"/>
<circle cx="70.80" cy="31.60" r="3.0" fill="rgba(25,25,75,0.5)"/><circle cx="70.20" cy="30.85" r="2.34" fill="rgba(236,238,255,0.72)"/>
<circle cx="61.30" cy="32.40" r="2.5" fill="rgba(25,25,75,0.5)"/><circle cx="60.70" cy="31.65" r="1.95" fill="rgba(236,238,255,0.72)"/>
<circle cx="69.20" cy="28.90" r="2.9" fill="rgba(25,25,75,0.5)"/><circle cx="68.60" cy="28.15" r="2.26" fill="rgba(236,238,255,0.72)"/>
<circle cx="66.40" cy="34.70" r="2.6" fill="rgba(25,25,75,0.5)"/><circle cx="65.80" cy="33.95" r="2.03" fill="rgba(236,238,255,0.72)"/>
<circle cx="65.10" cy="33.80" r="3.0" fill="rgba(25,25,75,0.5)"/><circle cx="64.50" cy="33.05" r="2.34" fill="rgba(236,238,255,0.72)"/>
<circle cx="21.30" cy="65.70" r="2.9" fill="rgba(25,25,75,0.5)"/><circle cx="20.70" cy="64.95" r="2.26" fill="rgba(236,238,255,0.72)"/>
<circle cx="10.40" cy="43.10" r="2.8" fill="rgba(25,25,75,0.5)"/><circle cx="9.80" cy="42.35" r="2.18" fill="rgba(236,238,255,0.72)"/>
<circle cx="13.00" cy="42.90" r="2.4" fill="rgba(25,25,75,0.5)"/><circle cx="12.40" cy="42.15" r="1.87" fill="rgba(236,238,255,0.72)"/>
<circle cx="25.40" cy="61.10" r="2.6" fill="rgba(25,25,75,0.5)"/><circle cx="24.80" cy="60.35" r="2.03" fill="rgba(236,238,255,0.72)"/>
<circle cx="13.50" cy="70.70" r="3.3" fill="rgba(25,25,75,0.5)"/><circle cx="12.90" cy="69.95" r="2.57" fill="rgba(236,238,255,0.72)"/>
<circle cx="22.10" cy="53.30" r="2.9" fill="rgba(25,25,75,0.5)"/><circle cx="21.50" cy="52.55" r="2.26" fill="rgba(236,238,255,0.72)"/>
<circle cx="18.60" cy="43.30" r="3.0" fill="rgba(25,25,75,0.5)"/><circle cx="18.00" cy="42.55" r="2.34" fill="rgba(236,238,255,0.72)"/>
<circle cx="10.10" cy="67.90" r="2.5" fill="rgba(25,25,75,0.5)"/><circle cx="9.50" cy="67.15" r="1.95" fill="rgba(236,238,255,0.72)"/>
<circle cx="18.70" cy="67.60" r="2.6" fill="rgba(25,25,75,0.5)"/><circle cx="18.10" cy="66.85" r="2.03" fill="rgba(236,238,255,0.72)"/>
<circle cx="23.20" cy="67.70" r="2.4" fill="rgba(25,25,75,0.5)"/><circle cx="22.60" cy="66.95" r="1.87" fill="rgba(236,238,255,0.72)"/>
<circle cx="19.30" cy="41.50" r="2.9" fill="rgba(25,25,75,0.5)"/><circle cx="18.70" cy="40.75" r="2.26" fill="rgba(236,238,255,0.72)"/>
<circle cx="13.60" cy="47.60" r="2.7" fill="rgba(25,25,75,0.5)"/><circle cx="13.00" cy="46.85" r="2.11" fill="rgba(236,238,255,0.72)"/>
<circle cx="21.30" cy="51.00" r="2.5" fill="rgba(25,25,75,0.5)"/><circle cx="20.70" cy="50.25" r="1.95" fill="rgba(236,238,255,0.72)"/>
<circle cx="19.10" cy="55.00" r="3.2" fill="rgba(25,25,75,0.5)"/><circle cx="18.50" cy="54.25" r="2.50" fill="rgba(236,238,255,0.72)"/>
<circle cx="9.30" cy="51.10" r="3.2" fill="rgba(25,25,75,0.5)"/><circle cx="8.70" cy="50.35" r="2.50" fill="rgba(236,238,255,0.72)"/>
<circle cx="15.00" cy="56.70" r="2.6" fill="rgba(25,25,75,0.5)"/><circle cx="14.40" cy="55.95" r="2.03" fill="rgba(236,238,255,0.72)"/>
<circle cx="4.70" cy="69.50" r="2.5" fill="rgba(25,25,75,0.5)"/><circle cx="4.10" cy="68.75" r="1.95" fill="rgba(236,238,255,0.72)"/>
<circle cx="22.10" cy="52.50" r="3.4" fill="rgba(25,25,75,0.5)"/><circle cx="21.50" cy="51.75" r="2.65" fill="rgba(236,238,255,0.72)"/>
<circle cx="43.50" cy="53.20" r="2.4" fill="rgba(25,25,75,0.5)"/><circle cx="42.90" cy="52.45" r="1.87" fill="rgba(236,238,255,0.72)"/>
<circle cx="41.00" cy="58.40" r="2.6" fill="rgba(25,25,75,0.5)"/><circle cx="40.40" cy="57.65" r="2.03" fill="rgba(236,238,255,0.72)"/>
<circle cx="45.50" cy="53.10" r="2.7" fill="rgba(25,25,75,0.5)"/><circle cx="44.90" cy="52.35" r="2.11" fill="rgba(236,238,255,0.72)"/>
<circle cx="37.20" cy="50.90" r="2.9" fill="rgba(25,25,75,0.5)"/><circle cx="36.60" cy="50.15" r="2.26" fill="rgba(236,238,255,0.72)"/>
<circle cx="35.50" cy="58.30" r="2.8" fill="rgba(25,25,75,0.5)"/><circle cx="34.90" cy="57.55" r="2.18" fill="rgba(236,238,255,0.72)"/>
<circle cx="47.20" cy="50.90" r="2.2" fill="rgba(25,25,75,0.5)"/><circle cx="46.60" cy="50.15" r="1.72" fill="rgba(236,238,255,0.72)"/>
<circle cx="4.40" cy="27.50" r="2.5" fill="rgba(25,25,75,0.5)"/><circle cx="3.80" cy="26.75" r="1.95" fill="rgba(236,238,255,0.72)"/>
</g>
<defs><filter id="pf9" filterUnits="userSpaceOnUse" x="301.2" y="295.4" width="77.8" height="72.2" color-interpolation-filters="sRGB"><feTurbulence type="turbulence" baseFrequency="0.08" numOctaves="2" seed="73" result="n"/><feColorMatrix in="n" type="luminanceToAlpha" result="na"/><feGaussianBlur in="SourceAlpha" stdDeviation="0.9" result="eb"/><feComposite in="na" in2="eb" operator="arithmetic" k1="0" k2="0.40" k3="0.60" k4="0"/><feDiffuseLighting surfaceScale="3" diffuseConstant="1" lighting-color="#fff"><feDistantLight azimuth="225" elevation="55"/></feDiffuseLighting><feColorMatrix type="matrix" values="0.420 0 0 0 0.1025 0.420 0 0 0 0.1025 0.420 0 0 0 0.5651 0 0 0 0 1"/></filter></defs>
<g filter="url(#pf9)"><rect x="301.2" y="295.4" width="77.8" height="72.2" fill="none"/><use href="#mz2" transform="translate(379.0,295.4) scale(-1,1)" stroke="#000" stroke-width="1.1" fill="none"/></g>
<g transform="translate(301.2,295.4)" filter="url(#soft2)">
<circle cx="63.40" cy="38.50" r="2.2" fill="rgba(25,25,75,0.5)"/><circle cx="62.80" cy="37.75" r="1.72" fill="rgba(236,238,255,0.72)"/>
<circle cx="19.40" cy="61.50" r="2.2" fill="rgba(25,25,75,0.5)"/><circle cx="18.80" cy="60.75" r="1.72" fill="rgba(236,238,255,0.72)"/>
<circle cx="64.40" cy="68.50" r="2" fill="rgba(25,25,75,0.5)"/><circle cx="63.80" cy="67.75" r="1.56" fill="rgba(236,238,255,0.72)"/>
<circle cx="54.40" cy="62.50" r="2" fill="rgba(25,25,75,0.5)"/><circle cx="53.80" cy="61.75" r="1.56" fill="rgba(236,238,255,0.72)"/>
<circle cx="40.40" cy="12.50" r="1.8" fill="rgba(25,25,75,0.5)"/><circle cx="39.80" cy="11.75" r="1.40" fill="rgba(236,238,255,0.72)"/>
<circle cx="65.40" cy="3.50" r="2" fill="rgba(25,25,75,0.5)"/><circle cx="64.80" cy="2.75" r="1.56" fill="rgba(236,238,255,0.72)"/>
<circle cx="30.40" cy="20.50" r="1.3" fill="rgba(25,25,75,0.5)"/><circle cx="29.80" cy="19.75" r="1.01" fill="rgba(236,238,255,0.72)"/>
<circle cx="50.40" cy="25.50" r="1.3" fill="rgba(25,25,75,0.5)"/><circle cx="49.80" cy="24.75" r="1.01" fill="rgba(236,238,255,0.72)"/>
<circle cx="10.40" cy="50.50" r="1.5" fill="rgba(25,25,75,0.5)"/><circle cx="9.80" cy="49.75" r="1.17" fill="rgba(236,238,255,0.72)"/>
<circle cx="45.40" cy="45.50" r="1.3" fill="rgba(25,25,75,0.5)"/><circle cx="44.80" cy="44.75" r="1.01" fill="rgba(236,238,255,0.72)"/>
</g>
<defs><filter id="pf10" filterUnits="userSpaceOnUse" x="383.8" y="295.4" width="78.0" height="72.2" color-interpolation-filters="sRGB"><feTurbulence type="turbulence" baseFrequency="0.08" numOctaves="2" seed="80" result="n"/><feColorMatrix in="n" type="luminanceToAlpha" result="na"/><feGaussianBlur in="SourceAlpha" stdDeviation="0.9" result="eb"/><feComposite in="na" in2="eb" operator="arithmetic" k1="0" k2="0.40" k3="0.60" k4="0"/><feDiffuseLighting surfaceScale="3" diffuseConstant="1" lighting-color="#fff"><feDistantLight azimuth="225" elevation="55"/></feDiffuseLighting><feColorMatrix type="matrix" values="0.420 0 0 0 0.1598 0.420 0 0 0 0.1676 0.420 0 0 0 0.4892 0 0 0 0 1"/></filter></defs>
<g filter="url(#pf10)"><rect x="383.8" y="295.4" width="78.0" height="72.2" fill="none"/><use href="#mz0" transform="translate(383.8,295.4)" stroke="#000" stroke-width="1.1" fill="none"/></g>
<g transform="translate(383.8,295.4)" filter="url(#soft2)">
<circle cx="17.40" cy="17.50" r="2" fill="rgba(25,25,75,0.5)"/><circle cx="16.80" cy="16.75" r="1.56" fill="rgba(236,238,255,0.72)"/>
<circle cx="21.40" cy="17.50" r="2" fill="rgba(25,25,75,0.5)"/><circle cx="20.80" cy="16.75" r="1.56" fill="rgba(236,238,255,0.72)"/>
<circle cx="30.40" cy="11.50" r="2" fill="rgba(25,25,75,0.5)"/><circle cx="29.80" cy="10.75" r="1.56" fill="rgba(236,238,255,0.72)"/>
<circle cx="34.40" cy="19.50" r="2" fill="rgba(25,25,75,0.5)"/><circle cx="33.80" cy="18.75" r="1.56" fill="rgba(236,238,255,0.72)"/>
<circle cx="42.40" cy="18.50" r="2" fill="rgba(25,25,75,0.5)"/><circle cx="41.80" cy="17.75" r="1.56" fill="rgba(236,238,255,0.72)"/>
<circle cx="41.40" cy="21.50" r="1.8" fill="rgba(25,25,75,0.5)"/><circle cx="40.80" cy="20.75" r="1.40" fill="rgba(236,238,255,0.72)"/>
<circle cx="32.40" cy="33.50" r="1.8" fill="rgba(25,25,75,0.5)"/><circle cx="31.80" cy="32.75" r="1.40" fill="rgba(236,238,255,0.72)"/>
<circle cx="38.40" cy="32.50" r="1.8" fill="rgba(25,25,75,0.5)"/><circle cx="37.80" cy="31.75" r="1.40" fill="rgba(236,238,255,0.72)"/>
<circle cx="31.40" cy="38.50" r="1.8" fill="rgba(25,25,75,0.5)"/><circle cx="30.80" cy="37.75" r="1.40" fill="rgba(236,238,255,0.72)"/>
<circle cx="29.40" cy="43.50" r="1.8" fill="rgba(25,25,75,0.5)"/><circle cx="28.80" cy="42.75" r="1.40" fill="rgba(236,238,255,0.72)"/>
<circle cx="53.40" cy="29.50" r="1.8" fill="rgba(25,25,75,0.5)"/><circle cx="52.80" cy="28.75" r="1.40" fill="rgba(236,238,255,0.72)"/>
<circle cx="55.40" cy="34.50" r="1.8" fill="rgba(25,25,75,0.5)"/><circle cx="54.80" cy="33.75" r="1.40" fill="rgba(236,238,255,0.72)"/>
<circle cx="58.40" cy="34.50" r="1.8" fill="rgba(25,25,75,0.5)"/><circle cx="57.80" cy="33.75" r="1.40" fill="rgba(236,238,255,0.72)"/>
<circle cx="70.40" cy="30.50" r="2" fill="rgba(25,25,75,0.5)"/><circle cx="69.80" cy="29.75" r="1.56" fill="rgba(236,238,255,0.72)"/>
<circle cx="73.40" cy="27.50" r="2" fill="rgba(25,25,75,0.5)"/><circle cx="72.80" cy="26.75" r="1.56" fill="rgba(236,238,255,0.72)"/>
<circle cx="64.40" cy="61.50" r="1.8" fill="rgba(25,25,75,0.5)"/><circle cx="63.80" cy="60.75" r="1.40" fill="rgba(236,238,255,0.72)"/>
<circle cx="68.40" cy="61.50" r="1.8" fill="rgba(25,25,75,0.5)"/><circle cx="67.80" cy="60.75" r="1.40" fill="rgba(236,238,255,0.72)"/>
<circle cx="48.40" cy="58.50" r="1.6" fill="rgba(25,25,75,0.5)"/><circle cx="47.80" cy="57.75" r="1.25" fill="rgba(236,238,255,0.72)"/>
<circle cx="52.40" cy="62.50" r="1.6" fill="rgba(25,25,75,0.5)"/><circle cx="51.80" cy="61.75" r="1.25" fill="rgba(236,238,255,0.72)"/>
<circle cx="27.40" cy="4.50" r="1.8" fill="rgba(25,25,75,0.5)"/><circle cx="26.80" cy="3.75" r="1.40" fill="rgba(236,238,255,0.72)"/>
<circle cx="41.40" cy="4.50" r="1.8" fill="rgba(25,25,75,0.5)"/><circle cx="40.80" cy="3.75" r="1.40" fill="rgba(236,238,255,0.72)"/>
<circle cx="12.40" cy="47.50" r="2.2" fill="rgba(25,25,75,0.5)"/><circle cx="11.80" cy="46.75" r="1.72" fill="rgba(236,238,255,0.72)"/>
<circle cx="5.40" cy="53.50" r="1.8" fill="rgba(25,25,75,0.5)"/><circle cx="4.80" cy="52.75" r="1.40" fill="rgba(236,238,255,0.72)"/>
<circle cx="24.40" cy="67.50" r="1.6" fill="rgba(25,25,75,0.5)"/><circle cx="23.80" cy="66.75" r="1.25" fill="rgba(236,238,255,0.72)"/>
<circle cx="58.40" cy="52.50" r="1.6" fill="rgba(25,25,75,0.5)"/><circle cx="57.80" cy="51.75" r="1.25" fill="rgba(236,238,255,0.72)"/>
</g>
<defs><filter id="pf11" filterUnits="userSpaceOnUse" x="466.7" y="295.4" width="78.3" height="72.2" color-interpolation-filters="sRGB"><feTurbulence type="turbulence" baseFrequency="0.08" numOctaves="2" seed="87" result="n"/><feColorMatrix in="n" type="luminanceToAlpha" result="na"/><feGaussianBlur in="SourceAlpha" stdDeviation="0.9" result="eb"/><feComposite in="na" in2="eb" operator="arithmetic" k1="0" k2="0.40" k3="0.60" k4="0"/><feDiffuseLighting surfaceScale="3" diffuseConstant="1" lighting-color="#fff"><feDistantLight azimuth="225" elevation="55"/></feDiffuseLighting><feColorMatrix type="matrix" values="0.420 0 0 0 0.1801 0.420 0 0 0 0.1958 0.420 0 0 0 0.5095 0 0 0 0 1"/></filter></defs>
<g filter="url(#pf11)"><rect x="466.7" y="295.4" width="78.3" height="72.2" fill="none"/><use href="#mz1" transform="translate(545.0,295.4) scale(-1,1)" stroke="#000" stroke-width="1.1" fill="none"/></g>
<g transform="translate(466.7,295.4)" filter="url(#soft2)">
<circle cx="24.40" cy="12.50" r="3.8" fill="rgba(25,25,75,0.5)"/><circle cx="23.80" cy="11.75" r="2.96" fill="rgba(236,238,255,0.72)"/>
<circle cx="32.40" cy="11.50" r="2.8" fill="rgba(25,25,75,0.5)"/><circle cx="31.80" cy="10.75" r="2.18" fill="rgba(236,238,255,0.72)"/>
<circle cx="29.40" cy="18.50" r="3.2" fill="rgba(25,25,75,0.5)"/><circle cx="28.80" cy="17.75" r="2.50" fill="rgba(236,238,255,0.72)"/>
<circle cx="34.40" cy="23.50" r="2.8" fill="rgba(25,25,75,0.5)"/><circle cx="33.80" cy="22.75" r="2.18" fill="rgba(236,238,255,0.72)"/>
<circle cx="9.40" cy="24.50" r="3.2" fill="rgba(25,25,75,0.5)"/><circle cx="8.80" cy="23.75" r="2.50" fill="rgba(236,238,255,0.72)"/>
<circle cx="16.40" cy="29.50" r="3.8" fill="rgba(25,25,75,0.5)"/><circle cx="15.80" cy="28.75" r="2.96" fill="rgba(236,238,255,0.72)"/>
<circle cx="4.40" cy="17.50" r="2.4" fill="rgba(25,25,75,0.5)"/><circle cx="3.80" cy="16.75" r="1.87" fill="rgba(236,238,255,0.72)"/>
<circle cx="42.40" cy="33.50" r="3.2" fill="rgba(25,25,75,0.5)"/><circle cx="41.80" cy="32.75" r="2.50" fill="rgba(236,238,255,0.72)"/>
<circle cx="27.40" cy="33.50" r="2" fill="rgba(25,25,75,0.5)"/><circle cx="26.80" cy="32.75" r="1.56" fill="rgba(236,238,255,0.72)"/>
<circle cx="4.40" cy="46.50" r="2.8" fill="rgba(25,25,75,0.5)"/><circle cx="3.80" cy="45.75" r="2.18" fill="rgba(236,238,255,0.72)"/>
<circle cx="46.40" cy="50.50" r="3.2" fill="rgba(25,25,75,0.5)"/><circle cx="45.80" cy="49.75" r="2.50" fill="rgba(236,238,255,0.72)"/>
<circle cx="60.40" cy="42.50" r="2.8" fill="rgba(25,25,75,0.5)"/><circle cx="59.80" cy="41.75" r="2.18" fill="rgba(236,238,255,0.72)"/>
<circle cx="73.40" cy="43.50" r="2.8" fill="rgba(25,25,75,0.5)"/><circle cx="72.80" cy="42.75" r="2.18" fill="rgba(236,238,255,0.72)"/>
<circle cx="43.40" cy="22.50" r="2" fill="rgba(25,25,75,0.5)"/><circle cx="42.80" cy="21.75" r="1.56" fill="rgba(236,238,255,0.72)"/>
<circle cx="6.40" cy="7.50" r="2" fill="rgba(25,25,75,0.5)"/><circle cx="5.80" cy="6.75" r="1.56" fill="rgba(236,238,255,0.72)"/>
</g>
</svg>
</body></html>
